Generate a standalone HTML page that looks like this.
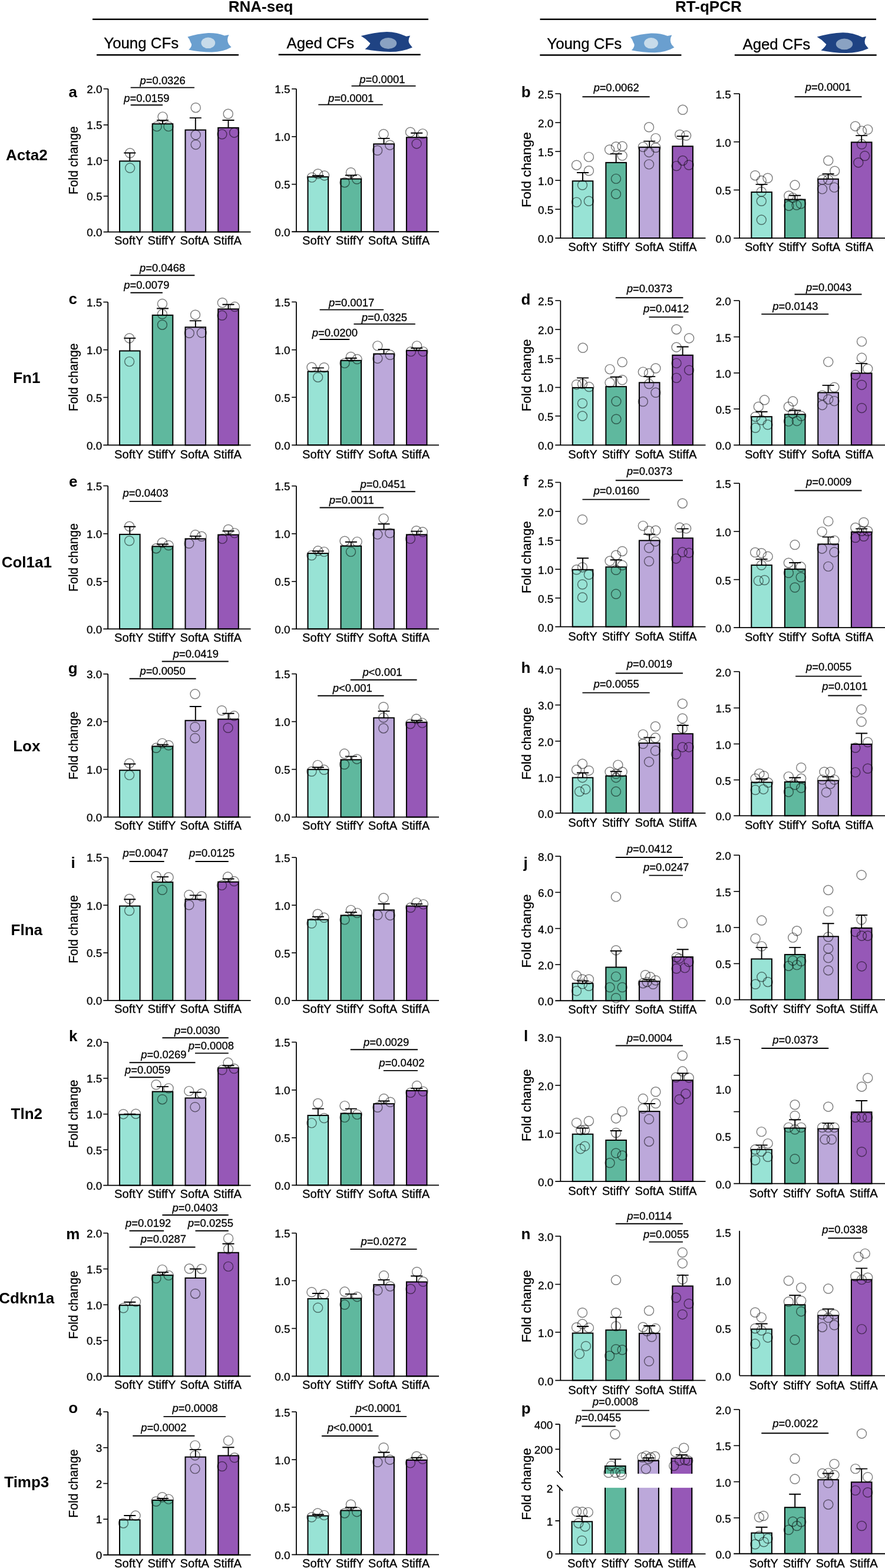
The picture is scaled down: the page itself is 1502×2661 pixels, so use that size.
<!DOCTYPE html>
<html><head><meta charset="utf-8"><title>Figure</title>
<style>html,body{margin:0;padding:0;background:#fff;overflow:hidden;}svg{display:block;}text{font-family:'Liberation Sans', Arial, Helvetica, sans-serif;fill:#000;}.tk,.xl,.pv,.fc,.sh{stroke:#000;stroke-width:0.3px;}.tk{font-size:18.9px;text-anchor:end;}.xl{font-size:20.2px;text-anchor:middle;}.pv{font-size:18.4px;text-anchor:middle;}.fc{font-size:22.6px;text-anchor:middle;}.lt{font-size:26px;font-weight:bold;text-anchor:middle;}.rl{font-size:26px;font-weight:bold;text-anchor:middle;}.hd{font-size:26px;font-weight:bold;text-anchor:middle;}.sh{font-size:25.6px;}circle{fill:none;stroke:#000;stroke-opacity:0.5;stroke-width:1.45px;}</style></head><body>
<svg width="1502" height="2661" viewBox="0 0 1502 2661">
<rect width="1502" height="2661" fill="#fff"/>
<text class="hd" x="442.6" y="19.6">RNA-seq</text>
<text class="hd" x="1202.4" y="19.8">RT-qPCR</text>
<path d="M157 32.7H727M916.5 32.8H1487" stroke="#000" stroke-width="2.5"/>
<path d="M164 93.3H405M472.7 92.8H713.7M916.3 93.4H1156.4M1246.8 93.6H1487.7" stroke="#000" stroke-width="2.5"/>
<text class="sh" x="176.3" y="82.3" textLength="126.8" lengthAdjust="spacingAndGlyphs">Young CFs</text>
<text class="sh" x="486.6" y="82.3" textLength="114.6" lengthAdjust="spacingAndGlyphs">Aged CFs</text>
<text class="sh" x="928.3" y="82.9" textLength="126.8" lengthAdjust="spacingAndGlyphs">Young CFs</text>
<text class="sh" x="1260.5" y="83.8" textLength="114.6" lengthAdjust="spacingAndGlyphs">Aged CFs</text>
<path transform="translate(318.4 56) scale(74.2000 32.5000)" d="M0 .2Q.22 .04 .47 0Q.68 -.01 .846 .135L.946 .095Q.88 .35 .942 .59L1 .735Q.82 .98 .554 1Q.28 1 .024 .877Q.13 .66 .066 .477Q.05 .33 0 .2Z" fill="#6a9fcf"/><ellipse cx="353.3" cy="72.8" rx="11.9" ry="9.3" fill="#c7dbea"/>
<path transform="translate(612.6 53.9) scale(87.3000 34.1000)" d="M0 .21Q.25 .03 .504 0Q.7 0 .882 .232L.957 .191Q.9 .45 .95 .62L1 .777Q.8 1 .568 1Q.3 .98 .078 .865Q.16 .7 .181 .572Q.1 .35 0 .21Z" fill="#1f4383"/><ellipse cx="659" cy="73.5" rx="14.2" ry="9.4" fill="#8aa2c2"/>
<path transform="translate(1070 56.5) scale(74.3000 32.7000)" d="M0 .2Q.22 .04 .47 0Q.68 -.01 .846 .135L.946 .095Q.88 .35 .942 .59L1 .735Q.82 .98 .554 1Q.28 1 .024 .877Q.13 .66 .066 .477Q.05 .33 0 .2Z" fill="#6a9fcf"/><ellipse cx="1105" cy="73.3" rx="11.9" ry="9.3" fill="#c7dbea"/>
<path transform="translate(1386.6 55.2) scale(87.3000 34.9000)" d="M0 .21Q.25 .03 .504 0Q.7 0 .882 .232L.957 .191Q.9 .45 .95 .62L1 .777Q.8 1 .568 1Q.3 .98 .078 .865Q.16 .7 .181 .572Q.1 .35 0 .21Z" fill="#1f4383"/><ellipse cx="1433" cy="74.8" rx="14.2" ry="9.4" fill="#8aa2c2"/>
<rect x="203" y="273.4" width="34.6" height="120.17" fill="#98e3d5" stroke="#000" stroke-width="2.0"/>
<rect x="258.7" y="210.23" width="34.6" height="183.33" fill="#5fb89e" stroke="#000" stroke-width="2.0"/>
<rect x="314.5" y="220.58" width="34.6" height="172.98" fill="#bca8da" stroke="#000" stroke-width="2.0"/>
<rect x="370.2" y="216.84" width="34.6" height="176.73" fill="#9658b7" stroke="#000" stroke-width="2.0"/>
<path d="M220.3 273.4V259.53M210.3 259.53H230.3" stroke="#000" stroke-width="1.9" fill="none"/>
<path d="M276 210.23V204.29M266 204.29H286" stroke="#000" stroke-width="1.9" fill="none"/>
<path d="M331.8 220.58V200.11M321.8 200.11H341.8" stroke="#000" stroke-width="1.9" fill="none"/>
<path d="M387.5 216.84V204.07M377.5 204.07H397.5" stroke="#000" stroke-width="1.9" fill="none"/>
<circle cx="220.61" cy="259.75" r="8.0"/>
<circle cx="220.61" cy="285.06" r="8.0"/>
<circle cx="276.07" cy="198.13" r="8.0"/>
<circle cx="266.16" cy="214.64" r="8.0"/>
<circle cx="285.97" cy="214.64" r="8.0"/>
<circle cx="332.19" cy="182.72" r="8.0"/>
<circle cx="332.19" cy="228.94" r="8.0"/>
<circle cx="332.19" cy="245.45" r="8.0"/>
<circle cx="387.21" cy="193.29" r="8.0"/>
<circle cx="376.86" cy="227.84" r="8.0"/>
<circle cx="397.55" cy="225.2" r="8.0"/>
<path d="M183.5 150.81V393.56M175.6 393.56H425.6" stroke="#000" stroke-width="1.8" fill="none"/>
<path d="M175.6 150.81H183.5" stroke="#000" stroke-width="1.6"/>
<path d="M175.6 211.99H183.5" stroke="#000" stroke-width="1.6"/>
<path d="M175.6 272.3H183.5" stroke="#000" stroke-width="1.6"/>
<path d="M175.6 332.82H183.5" stroke="#000" stroke-width="1.6"/>
<text class="tk" x="173.5" y="158.11">2.0</text>
<text class="tk" x="173.5" y="219.29">1.5</text>
<text class="tk" x="173.5" y="279.6">1.0</text>
<text class="tk" x="173.5" y="340.12">0.5</text>
<text class="tk" x="173.5" y="400.86">0.0</text>
<text class="xl" x="218.8" y="414.96">SoftY</text>
<text class="xl" x="274.5" y="414.96">StiffY</text>
<text class="xl" x="330.3" y="414.96">SoftA</text>
<text class="xl" x="386" y="414.96">StiffA</text>
<path d="M221.71 148.61H329.99" stroke="#000" stroke-width="1.9"/>
<text class="pv" x="276.21" y="142.9"><tspan font-style="italic">p</tspan>=0.0326</text>
<path d="M221.71 178.32H276.07" stroke="#000" stroke-width="1.9"/>
<text class="pv" x="248.92" y="172.52"><tspan font-style="italic">p</tspan>=0.0159</text>
<text class="fc" transform="translate(131.7 272.2) rotate(-90)" x="0" y="0" textLength="115.8" lengthAdjust="spacingAndGlyphs">Fold change</text>
<rect x="522.5" y="300.19" width="34.6" height="93.05" fill="#98e3d5" stroke="#000" stroke-width="2.0"/>
<rect x="578.5" y="303.6" width="34.6" height="89.65" fill="#5fb89e" stroke="#000" stroke-width="2.0"/>
<rect x="634.2" y="244.36" width="34.6" height="148.89" fill="#bca8da" stroke="#000" stroke-width="2.0"/>
<rect x="689.9" y="233.24" width="34.6" height="160.01" fill="#9658b7" stroke="#000" stroke-width="2.0"/>
<path d="M539.8 300.19V297.92M529.8 297.92H549.8" stroke="#000" stroke-width="1.9" fill="none"/>
<path d="M595.8 303.6V297.47M585.8 297.47H605.8" stroke="#000" stroke-width="1.9" fill="none"/>
<path d="M651.5 244.36V234.83M641.5 234.83H661.5" stroke="#000" stroke-width="1.9" fill="none"/>
<path d="M707.2 233.24V225.75M697.2 225.75H717.2" stroke="#000" stroke-width="1.9" fill="none"/>
<circle cx="529.39" cy="301.1" r="8.0"/>
<circle cx="539.61" cy="294.97" r="8.0"/>
<circle cx="550.5" cy="297.92" r="8.0"/>
<circle cx="585" cy="309.72" r="8.0"/>
<circle cx="595.44" cy="292.7" r="8.0"/>
<circle cx="605.65" cy="304.05" r="8.0"/>
<circle cx="640.61" cy="255.25" r="8.0"/>
<circle cx="651.05" cy="227.57" r="8.0"/>
<circle cx="661.71" cy="246.18" r="8.0"/>
<circle cx="696.44" cy="224.16" r="8.0"/>
<circle cx="707.1" cy="243.91" r="8.0"/>
<circle cx="717.32" cy="226.88" r="8.0"/>
<path d="M502.9 150.85V393.25M495.1 393.25H745" stroke="#000" stroke-width="1.8" fill="none"/>
<path d="M495.1 150.85H502.9" stroke="#000" stroke-width="1.6"/>
<path d="M495.1 231.88H502.9" stroke="#000" stroke-width="1.6"/>
<path d="M495.1 312.68H502.9" stroke="#000" stroke-width="1.6"/>
<text class="tk" x="492.6" y="158.45">1.5</text>
<text class="tk" x="492.6" y="239.48">1.0</text>
<text class="tk" x="492.6" y="320.28">0.5</text>
<text class="tk" x="492.6" y="400.85">0.0</text>
<text class="xl" x="537.8" y="414.65">SoftY</text>
<text class="xl" x="593.8" y="414.65">StiffY</text>
<text class="xl" x="649.5" y="414.65">SoftA</text>
<text class="xl" x="705.2" y="414.65">StiffA</text>
<path d="M540.29 177.63H649.68" stroke="#000" stroke-width="1.9"/>
<text class="pv" x="595.56" y="172.53"><tspan font-style="italic">p</tspan>=0.0001</text>
<path d="M596.57 145.86H705.52" stroke="#000" stroke-width="1.9"/>
<text class="pv" x="648.89" y="140.76"><tspan font-style="italic">p</tspan>=0.0001</text>
<rect x="971.7" y="307.24" width="34.6" height="96.91" fill="#98e3d5" stroke="#000" stroke-width="2.0"/>
<rect x="1028.3" y="275.92" width="34.6" height="128.23" fill="#5fb89e" stroke="#000" stroke-width="2.0"/>
<rect x="1084.9" y="249.82" width="34.6" height="154.33" fill="#bca8da" stroke="#000" stroke-width="2.0"/>
<rect x="1141.3" y="248.23" width="34.6" height="155.92" fill="#9658b7" stroke="#000" stroke-width="2.0"/>
<path d="M989 307.24V292.94M979 292.94H999" stroke="#000" stroke-width="1.9" fill="none"/>
<path d="M1045.6 275.92V261.17M1035.6 261.17H1055.6" stroke="#000" stroke-width="1.9" fill="none"/>
<path d="M1102.2 249.82V239.61M1092.2 239.61H1112.2" stroke="#000" stroke-width="1.9" fill="none"/>
<path d="M1158.6 248.23V231.21M1148.6 231.21H1168.6" stroke="#000" stroke-width="1.9" fill="none"/>
<circle cx="978.49" cy="280.23" r="8.0"/>
<circle cx="999.37" cy="266.39" r="8.0"/>
<circle cx="999.37" cy="289.77" r="8.0"/>
<circle cx="988.47" cy="314.05" r="8.0"/>
<circle cx="978.49" cy="343.1" r="8.0"/>
<circle cx="999.37" cy="341.29" r="8.0"/>
<circle cx="1034.55" cy="253.91" r="8.0"/>
<circle cx="1045.44" cy="248.91" r="8.0"/>
<circle cx="1056.11" cy="248.23" r="8.0"/>
<circle cx="1056.11" cy="264.12" r="8.0"/>
<circle cx="1045.44" cy="303.38" r="8.0"/>
<circle cx="1045.44" cy="329.26" r="8.0"/>
<circle cx="1101.5" cy="215.78" r="8.0"/>
<circle cx="1112.85" cy="234.61" r="8.0"/>
<circle cx="1091.29" cy="249.37" r="8.0"/>
<circle cx="1112.85" cy="250.5" r="8.0"/>
<circle cx="1101.5" cy="258.45" r="8.0"/>
<circle cx="1101.5" cy="278.87" r="8.0"/>
<circle cx="1158.69" cy="186.27" r="8.0"/>
<circle cx="1153.7" cy="228.49" r="8.0"/>
<circle cx="1164.59" cy="230.08" r="8.0"/>
<circle cx="1158.69" cy="272.52" r="8.0"/>
<circle cx="1148.03" cy="281.6" r="8.0"/>
<circle cx="1169.13" cy="280.01" r="8.0"/>
<path d="M951.3 159.04V404.15M942.3 404.15H1197.5" stroke="#000" stroke-width="1.8" fill="none"/>
<path d="M942.3 159.04H951.3" stroke="#000" stroke-width="1.6"/>
<path d="M942.3 208.06H951.3" stroke="#000" stroke-width="1.6"/>
<path d="M942.3 257.08H951.3" stroke="#000" stroke-width="1.6"/>
<path d="M942.3 306.11H951.3" stroke="#000" stroke-width="1.6"/>
<path d="M942.3 355.13H951.3" stroke="#000" stroke-width="1.6"/>
<text class="tk" x="939.3" y="167.04">2.5</text>
<text class="tk" x="939.3" y="216.06">2.0</text>
<text class="tk" x="939.3" y="265.08">1.5</text>
<text class="tk" x="939.3" y="314.11">1.0</text>
<text class="tk" x="939.3" y="363.13">0.5</text>
<text class="tk" x="939.3" y="412.15">0.0</text>
<text class="xl" x="989" y="425.55">SoftY</text>
<text class="xl" x="1045.6" y="425.55">StiffY</text>
<text class="xl" x="1102.2" y="425.55">SoftA</text>
<text class="xl" x="1158.6" y="425.55">StiffA</text>
<path d="M988.47 164.26H1102.63" stroke="#000" stroke-width="1.9"/>
<text class="pv" x="1046.01" y="155.3"><tspan font-style="italic">p</tspan>=0.0062</text>
<text class="fc" transform="translate(900.6 288.15) rotate(-90)" x="0" y="0" textLength="127.9" lengthAdjust="spacingAndGlyphs">Fold change</text>
<rect x="1275.3" y="326.08" width="34.6" height="78.07" fill="#98e3d5" stroke="#000" stroke-width="2.0"/>
<rect x="1331.9" y="338.56" width="34.6" height="65.59" fill="#5fb89e" stroke="#000" stroke-width="2.0"/>
<rect x="1388.3" y="303.84" width="34.6" height="100.32" fill="#bca8da" stroke="#000" stroke-width="2.0"/>
<rect x="1444.9" y="241.42" width="34.6" height="162.73" fill="#9658b7" stroke="#000" stroke-width="2.0"/>
<path d="M1292.6 326.08V312.92M1282.6 312.92H1302.6" stroke="#000" stroke-width="1.9" fill="none"/>
<path d="M1349.2 338.56V331.75M1339.2 331.75H1359.2" stroke="#000" stroke-width="1.9" fill="none"/>
<path d="M1405.6 303.84V295.21M1395.6 295.21H1415.6" stroke="#000" stroke-width="1.9" fill="none"/>
<path d="M1462.2 241.42V230.08M1452.2 230.08H1472.2" stroke="#000" stroke-width="1.9" fill="none"/>
<circle cx="1281.62" cy="297.71" r="8.0"/>
<circle cx="1302.96" cy="302.25" r="8.0"/>
<circle cx="1292.29" cy="306.56" r="8.0"/>
<circle cx="1292.29" cy="325.4" r="8.0"/>
<circle cx="1292.29" cy="341.29" r="8.0"/>
<circle cx="1292.29" cy="373.06" r="8.0"/>
<circle cx="1349.03" cy="314.05" r="8.0"/>
<circle cx="1338.82" cy="332.21" r="8.0"/>
<circle cx="1345.62" cy="335.61" r="8.0"/>
<circle cx="1338.82" cy="349.23" r="8.0"/>
<circle cx="1351.98" cy="348.09" r="8.0"/>
<circle cx="1359.24" cy="345.83" r="8.0"/>
<circle cx="1405.77" cy="272.52" r="8.0"/>
<circle cx="1416.66" cy="290.22" r="8.0"/>
<circle cx="1395.56" cy="304.97" r="8.0"/>
<circle cx="1405.77" cy="304.97" r="8.0"/>
<circle cx="1395.56" cy="320.86" r="8.0"/>
<circle cx="1415.98" cy="318.14" r="8.0"/>
<circle cx="1451.61" cy="214.19" r="8.0"/>
<circle cx="1472.72" cy="219.86" r="8.0"/>
<circle cx="1462.51" cy="222.13" r="8.0"/>
<circle cx="1462.51" cy="244.83" r="8.0"/>
<circle cx="1467.73" cy="264.57" r="8.0"/>
<circle cx="1456.83" cy="275.92" r="8.0"/>
<path d="M1255.1 159.04V404.15M1245.2 404.15H1502" stroke="#000" stroke-width="1.8" fill="none"/>
<path d="M1245.2 159.04H1255.1" stroke="#000" stroke-width="1.6"/>
<path d="M1245.2 240.74H1255.1" stroke="#000" stroke-width="1.6"/>
<path d="M1245.2 322.45H1255.1" stroke="#000" stroke-width="1.6"/>
<text class="tk" x="1240.8" y="167.04">1.5</text>
<text class="tk" x="1240.8" y="248.74">1.0</text>
<text class="tk" x="1240.8" y="330.45">0.5</text>
<text class="tk" x="1240.8" y="412.15">0.0</text>
<text class="xl" x="1288.6" y="425.55">SoftY</text>
<text class="xl" x="1345.2" y="425.55">StiffY</text>
<text class="xl" x="1401.6" y="425.55">SoftA</text>
<text class="xl" x="1458.2" y="425.55">StiffA</text>
<path d="M1348.57 164.26H1462.51" stroke="#000" stroke-width="1.9"/>
<text class="pv" x="1405.43" y="154.39"><tspan font-style="italic">p</tspan>=0.0001</text>
<rect x="203" y="595.47" width="34.6" height="160.01" fill="#98e3d5" stroke="#000" stroke-width="2.0"/>
<rect x="258.7" y="534.87" width="34.6" height="220.61" fill="#5fb89e" stroke="#000" stroke-width="2.0"/>
<rect x="314.5" y="555.3" width="34.6" height="200.18" fill="#bca8da" stroke="#000" stroke-width="2.0"/>
<rect x="370.2" y="524.43" width="34.6" height="231.05" fill="#9658b7" stroke="#000" stroke-width="2.0"/>
<path d="M220.3 595.47V573.91M210.3 573.91H230.3" stroke="#000" stroke-width="1.9" fill="none"/>
<path d="M276 534.87V523.52M266 523.52H286" stroke="#000" stroke-width="1.9" fill="none"/>
<path d="M331.8 555.3V544.4M321.8 544.4H341.8" stroke="#000" stroke-width="1.9" fill="none"/>
<path d="M387.5 524.43V516.71M377.5 516.71H397.5" stroke="#000" stroke-width="1.9" fill="none"/>
<circle cx="219.61" cy="573.91" r="8.0"/>
<circle cx="219.61" cy="613.62" r="8.0"/>
<circle cx="275.44" cy="515.58" r="8.0"/>
<circle cx="275.44" cy="533.05" r="8.0"/>
<circle cx="275.44" cy="551.21" r="8.0"/>
<circle cx="331.5" cy="534.19" r="8.0"/>
<circle cx="321.29" cy="565.28" r="8.0"/>
<circle cx="342.39" cy="564.83" r="8.0"/>
<circle cx="377.35" cy="513.76" r="8.0"/>
<circle cx="398.45" cy="520.57" r="8.0"/>
<circle cx="376.89" cy="535.32" r="8.0"/>
<path d="M183.2 512.63V755.47M175.3 755.47H425.6" stroke="#000" stroke-width="1.8" fill="none"/>
<path d="M175.3 512.63H183.2" stroke="#000" stroke-width="1.6"/>
<path d="M175.3 593.65H183.2" stroke="#000" stroke-width="1.6"/>
<path d="M175.3 674.45H183.2" stroke="#000" stroke-width="1.6"/>
<text class="tk" x="173.2" y="519.93">1.5</text>
<text class="tk" x="173.2" y="600.95">1.0</text>
<text class="tk" x="173.2" y="681.75">0.5</text>
<text class="tk" x="173.2" y="762.77">0.0</text>
<text class="xl" x="218.8" y="778.37">SoftY</text>
<text class="xl" x="274.5" y="778.37">StiffY</text>
<text class="xl" x="330.3" y="778.37">SoftA</text>
<text class="xl" x="386" y="778.37">StiffA</text>
<path d="M221.42 467.24H330.36" stroke="#000" stroke-width="1.9"/>
<text class="pv" x="275.56" y="460.77"><tspan font-style="italic">p</tspan>=0.0468</text>
<path d="M221.42 496.74H275.89" stroke="#000" stroke-width="1.9"/>
<text class="pv" x="248.78" y="490.28"><tspan font-style="italic">p</tspan>=0.0079</text>
<text class="fc" transform="translate(131.7 640.3) rotate(-90)" x="0" y="0" textLength="115.4" lengthAdjust="spacingAndGlyphs">Fold change</text>
<rect x="522.5" y="630.46" width="34.6" height="124.83" fill="#98e3d5" stroke="#000" stroke-width="2.0"/>
<rect x="578.5" y="611.85" width="34.6" height="143.44" fill="#5fb89e" stroke="#000" stroke-width="2.0"/>
<rect x="634.2" y="600.5" width="34.6" height="154.79" fill="#bca8da" stroke="#000" stroke-width="2.0"/>
<rect x="689.9" y="594.83" width="34.6" height="160.46" fill="#9658b7" stroke="#000" stroke-width="2.0"/>
<path d="M539.8 630.46V624.33M529.8 624.33H549.8" stroke="#000" stroke-width="1.9" fill="none"/>
<path d="M595.8 611.85V607.76M585.8 607.76H605.8" stroke="#000" stroke-width="1.9" fill="none"/>
<path d="M651.5 600.5V593.01M641.5 593.01H661.5" stroke="#000" stroke-width="1.9" fill="none"/>
<path d="M707.2 594.83V590.74M697.2 590.74H717.2" stroke="#000" stroke-width="1.9" fill="none"/>
<circle cx="528.94" cy="623.2" r="8.0"/>
<circle cx="550.05" cy="623.65" r="8.0"/>
<circle cx="539.61" cy="640.22" r="8.0"/>
<circle cx="595.44" cy="605.5" r="8.0"/>
<circle cx="606.11" cy="609.58" r="8.0"/>
<circle cx="585" cy="616.39" r="8.0"/>
<circle cx="640.83" cy="586.88" r="8.0"/>
<circle cx="662.17" cy="602.32" r="8.0"/>
<circle cx="640.83" cy="608.45" r="8.0"/>
<circle cx="707.56" cy="586.88" r="8.0"/>
<circle cx="697.35" cy="596.64" r="8.0"/>
<circle cx="718" cy="596.64" r="8.0"/>
<path d="M502.9 512.44V755.29M495.1 755.29H745" stroke="#000" stroke-width="1.8" fill="none"/>
<path d="M495.1 512.44H502.9" stroke="#000" stroke-width="1.6"/>
<path d="M495.1 593.69H502.9" stroke="#000" stroke-width="1.6"/>
<path d="M495.1 674.26H502.9" stroke="#000" stroke-width="1.6"/>
<text class="tk" x="492.6" y="520.04">1.5</text>
<text class="tk" x="492.6" y="601.29">1.0</text>
<text class="tk" x="492.6" y="681.86">0.5</text>
<text class="tk" x="492.6" y="762.89">0.0</text>
<text class="xl" x="537.8" y="778.19">SoftY</text>
<text class="xl" x="593.8" y="778.19">StiffY</text>
<text class="xl" x="649.5" y="778.19">SoftA</text>
<text class="xl" x="705.2" y="778.19">StiffA</text>
<path d="M542.56 525.61H651.05" stroke="#000" stroke-width="1.9"/>
<text class="pv" x="596.69" y="520.28"><tspan font-style="italic">p</tspan>=0.0017</text>
<path d="M600.43 549.89H704.83" stroke="#000" stroke-width="1.9"/>
<text class="pv" x="652.3" y="544.56"><tspan font-style="italic">p</tspan>=0.0325</text>
<path d="M542.56 575.99H593.17" stroke="#000" stroke-width="1.9"/>
<text class="pv" x="568.32" y="570.66"><tspan font-style="italic">p</tspan>=0.0200</text>
<rect x="971.7" y="657.92" width="34.6" height="97.37" fill="#98e3d5" stroke="#000" stroke-width="2.0"/>
<rect x="1028.3" y="656.11" width="34.6" height="99.18" fill="#5fb89e" stroke="#000" stroke-width="2.0"/>
<rect x="1084.9" y="649.3" width="34.6" height="105.99" fill="#bca8da" stroke="#000" stroke-width="2.0"/>
<rect x="1141.3" y="602.77" width="34.6" height="152.52" fill="#9658b7" stroke="#000" stroke-width="2.0"/>
<path d="M989 657.92V641.35M979 641.35H999" stroke="#000" stroke-width="1.9" fill="none"/>
<path d="M1045.6 656.11V639.77M1035.6 639.77H1055.6" stroke="#000" stroke-width="1.9" fill="none"/>
<path d="M1102.2 649.3V639.09M1092.2 639.09H1112.2" stroke="#000" stroke-width="1.9" fill="none"/>
<path d="M1158.6 602.77V588.47M1148.6 588.47H1168.6" stroke="#000" stroke-width="1.9" fill="none"/>
<circle cx="989.15" cy="590.29" r="8.0"/>
<circle cx="978.49" cy="652.7" r="8.0"/>
<circle cx="988.47" cy="651.57" r="8.0"/>
<circle cx="999.82" cy="656.56" r="8.0"/>
<circle cx="988.47" cy="684.48" r="8.0"/>
<circle cx="988.47" cy="706.04" r="8.0"/>
<circle cx="1056.11" cy="614.57" r="8.0"/>
<circle cx="1035" cy="626.6" r="8.0"/>
<circle cx="1056.11" cy="644.76" r="8.0"/>
<circle cx="1035" cy="649.3" r="8.0"/>
<circle cx="1045.89" cy="681.07" r="8.0"/>
<circle cx="1045.89" cy="711.26" r="8.0"/>
<circle cx="1091.29" cy="631.14" r="8.0"/>
<circle cx="1112.85" cy="625.01" r="8.0"/>
<circle cx="1101.5" cy="633.41" r="8.0"/>
<circle cx="1101.5" cy="651.57" r="8.0"/>
<circle cx="1112.85" cy="666.32" r="8.0"/>
<circle cx="1091.29" cy="681.53" r="8.0"/>
<circle cx="1148.03" cy="558.97" r="8.0"/>
<circle cx="1169.59" cy="573.95" r="8.0"/>
<circle cx="1148.03" cy="589.15" r="8.0"/>
<circle cx="1148.03" cy="616.39" r="8.0"/>
<circle cx="1169.59" cy="628.19" r="8.0"/>
<circle cx="1148.03" cy="641.35" r="8.0"/>
<path d="M951.3 510.17V755.29M942.3 755.29H1197.5" stroke="#000" stroke-width="1.8" fill="none"/>
<path d="M942.3 510.17H951.3" stroke="#000" stroke-width="1.6"/>
<path d="M942.3 559.2H951.3" stroke="#000" stroke-width="1.6"/>
<path d="M942.3 608.45H951.3" stroke="#000" stroke-width="1.6"/>
<path d="M942.3 657.47H951.3" stroke="#000" stroke-width="1.6"/>
<path d="M942.3 706.04H951.3" stroke="#000" stroke-width="1.6"/>
<text class="tk" x="939.3" y="518.17">2.5</text>
<text class="tk" x="939.3" y="567.2">2.0</text>
<text class="tk" x="939.3" y="616.45">1.5</text>
<text class="tk" x="939.3" y="665.47">1.0</text>
<text class="tk" x="939.3" y="714.04">0.5</text>
<text class="tk" x="939.3" y="763.29">0.0</text>
<text class="xl" x="989" y="777.69">SoftY</text>
<text class="xl" x="1045.6" y="777.69">StiffY</text>
<text class="xl" x="1102.2" y="777.69">SoftA</text>
<text class="xl" x="1158.6" y="777.69">StiffA</text>
<path d="M1044.76 505.18H1159.37" stroke="#000" stroke-width="1.9"/>
<text class="pv" x="1102.3" y="495.77"><tspan font-style="italic">p</tspan>=0.0373</text>
<path d="M1101.5 538.09H1159.37" stroke="#000" stroke-width="1.9"/>
<text class="pv" x="1130.67" y="530.26"><tspan font-style="italic">p</tspan>=0.0412</text>
<text class="fc" transform="translate(900.6 636.9) rotate(-90)" x="0" y="0" textLength="122.8" lengthAdjust="spacingAndGlyphs">Fold change</text>
<rect x="1275.3" y="707.17" width="34.6" height="48.12" fill="#98e3d5" stroke="#000" stroke-width="2.0"/>
<rect x="1331.9" y="703.31" width="34.6" height="51.97" fill="#5fb89e" stroke="#000" stroke-width="2.0"/>
<rect x="1388.3" y="666.32" width="34.6" height="88.97" fill="#bca8da" stroke="#000" stroke-width="2.0"/>
<rect x="1444.9" y="633.41" width="34.6" height="121.88" fill="#9658b7" stroke="#000" stroke-width="2.0"/>
<path d="M1292.6 707.17V698.78M1282.6 698.78H1302.6" stroke="#000" stroke-width="1.9" fill="none"/>
<path d="M1349.2 703.31V696.51M1339.2 696.51H1359.2" stroke="#000" stroke-width="1.9" fill="none"/>
<path d="M1405.6 666.32V653.84M1395.6 653.84H1415.6" stroke="#000" stroke-width="1.9" fill="none"/>
<path d="M1462.2 633.41V616.84M1452.2 616.84H1472.2" stroke="#000" stroke-width="1.9" fill="none"/>
<circle cx="1297.51" cy="678.8" r="8.0"/>
<circle cx="1287.3" cy="690.15" r="8.0"/>
<circle cx="1282.08" cy="707.17" r="8.0"/>
<circle cx="1292.29" cy="712.85" r="8.0"/>
<circle cx="1302.96" cy="720.79" r="8.0"/>
<circle cx="1282.08" cy="726.01" r="8.0"/>
<circle cx="1345.62" cy="681.07" r="8.0"/>
<circle cx="1338.36" cy="690.15" r="8.0"/>
<circle cx="1345.62" cy="701.5" r="8.0"/>
<circle cx="1359.7" cy="706.04" r="8.0"/>
<circle cx="1338.36" cy="715.12" r="8.0"/>
<circle cx="1352.43" cy="714.44" r="8.0"/>
<circle cx="1405.77" cy="614.12" r="8.0"/>
<circle cx="1415.98" cy="657.24" r="8.0"/>
<circle cx="1395.56" cy="670.86" r="8.0"/>
<circle cx="1405.77" cy="677.67" r="8.0"/>
<circle cx="1415.98" cy="680.62" r="8.0"/>
<circle cx="1395.56" cy="687.43" r="8.0"/>
<circle cx="1462.51" cy="579.62" r="8.0"/>
<circle cx="1462.51" cy="607.31" r="8.0"/>
<circle cx="1472.72" cy="625.92" r="8.0"/>
<circle cx="1451.84" cy="636.36" r="8.0"/>
<circle cx="1462.51" cy="653.16" r="8.0"/>
<circle cx="1462.51" cy="692.42" r="8.0"/>
<path d="M1255.1 510.17V755.29M1245.2 755.29H1502" stroke="#000" stroke-width="1.8" fill="none"/>
<path d="M1245.2 510.17H1255.1" stroke="#000" stroke-width="1.6"/>
<path d="M1245.2 571.68H1255.1" stroke="#000" stroke-width="1.6"/>
<path d="M1245.2 632.96H1255.1" stroke="#000" stroke-width="1.6"/>
<path d="M1245.2 694.01H1255.1" stroke="#000" stroke-width="1.6"/>
<text class="tk" x="1240.8" y="518.17">2.0</text>
<text class="tk" x="1240.8" y="579.68">1.5</text>
<text class="tk" x="1240.8" y="640.96">1.0</text>
<text class="tk" x="1240.8" y="702.01">0.5</text>
<text class="tk" x="1240.8" y="763.29">0.0</text>
<text class="xl" x="1288.6" y="777.69">SoftY</text>
<text class="xl" x="1345.2" y="777.69">StiffY</text>
<text class="xl" x="1401.6" y="777.69">SoftA</text>
<text class="xl" x="1458.2" y="777.69">StiffA</text>
<path d="M1348.57 499.5H1462.51" stroke="#000" stroke-width="1.9"/>
<text class="pv" x="1406.57" y="493.5"><tspan font-style="italic">p</tspan>=0.0043</text>
<path d="M1292.29 533.09H1406.22" stroke="#000" stroke-width="1.9"/>
<text class="pv" x="1349.83" y="526.41"><tspan font-style="italic">p</tspan>=0.0143</text>
<rect x="203" y="906.88" width="34.6" height="160.46" fill="#98e3d5" stroke="#000" stroke-width="2.0"/>
<rect x="258.7" y="927.31" width="34.6" height="140.03" fill="#5fb89e" stroke="#000" stroke-width="2.0"/>
<rect x="314.5" y="914.37" width="34.6" height="152.97" fill="#bca8da" stroke="#000" stroke-width="2.0"/>
<rect x="370.2" y="907.57" width="34.6" height="159.78" fill="#9658b7" stroke="#000" stroke-width="2.0"/>
<path d="M220.3 906.88V893.72M210.3 893.72H230.3" stroke="#000" stroke-width="1.9" fill="none"/>
<path d="M276 927.31V923.45M266 923.45H286" stroke="#000" stroke-width="1.9" fill="none"/>
<path d="M331.8 914.37V909.83M321.8 909.83H341.8" stroke="#000" stroke-width="1.9" fill="none"/>
<path d="M387.5 907.57V901.21M377.5 901.21H397.5" stroke="#000" stroke-width="1.9" fill="none"/>
<circle cx="219.61" cy="893.27" r="8.0"/>
<circle cx="219.61" cy="917.78" r="8.0"/>
<circle cx="275.44" cy="920.96" r="8.0"/>
<circle cx="286.11" cy="925.5" r="8.0"/>
<circle cx="265" cy="930.72" r="8.0"/>
<circle cx="331.5" cy="907.57" r="8.0"/>
<circle cx="342.17" cy="910.29" r="8.0"/>
<circle cx="320.83" cy="922.32" r="8.0"/>
<circle cx="387.56" cy="898.49" r="8.0"/>
<circle cx="398" cy="904.61" r="8.0"/>
<circle cx="377.35" cy="914.37" r="8.0"/>
<path d="M183.2 824.5V1067.35M175.3 1067.35H425.6" stroke="#000" stroke-width="1.8" fill="none"/>
<path d="M175.3 824.5H183.2" stroke="#000" stroke-width="1.6"/>
<path d="M175.3 905.75H183.2" stroke="#000" stroke-width="1.6"/>
<path d="M175.3 986.77H183.2" stroke="#000" stroke-width="1.6"/>
<text class="tk" x="173.2" y="831.8">1.5</text>
<text class="tk" x="173.2" y="913.05">1.0</text>
<text class="tk" x="173.2" y="994.07">0.5</text>
<text class="tk" x="173.2" y="1074.65">0.0</text>
<text class="xl" x="218.8" y="1088.75">SoftY</text>
<text class="xl" x="274.5" y="1088.75">StiffY</text>
<text class="xl" x="330.3" y="1088.75">SoftA</text>
<text class="xl" x="386" y="1088.75">StiffA</text>
<path d="M219.61 850.83H274.08" stroke="#000" stroke-width="1.9"/>
<text class="pv" x="247.19" y="843"><tspan font-style="italic">p</tspan>=0.0403</text>
<text class="fc" transform="translate(131.7 946) rotate(-90)" x="0" y="0" textLength="115.8" lengthAdjust="spacingAndGlyphs">Fold change</text>
<rect x="522.5" y="939.11" width="34.6" height="128.23" fill="#98e3d5" stroke="#000" stroke-width="2.0"/>
<rect x="578.5" y="926.63" width="34.6" height="140.72" fill="#5fb89e" stroke="#000" stroke-width="2.0"/>
<rect x="634.2" y="898.49" width="34.6" height="168.86" fill="#bca8da" stroke="#000" stroke-width="2.0"/>
<rect x="689.9" y="907.34" width="34.6" height="160.01" fill="#9658b7" stroke="#000" stroke-width="2.0"/>
<path d="M539.8 939.11V935.25M529.8 935.25H549.8" stroke="#000" stroke-width="1.9" fill="none"/>
<path d="M595.8 926.63V919.82M585.8 919.82H605.8" stroke="#000" stroke-width="1.9" fill="none"/>
<path d="M651.5 898.49V889.18M641.5 889.18H661.5" stroke="#000" stroke-width="1.9" fill="none"/>
<path d="M707.2 907.34V901.66M697.2 901.66H717.2" stroke="#000" stroke-width="1.9" fill="none"/>
<circle cx="528.94" cy="942.52" r="8.0"/>
<circle cx="539.61" cy="934.8" r="8.0"/>
<circle cx="550.05" cy="936.39" r="8.0"/>
<circle cx="585" cy="918.23" r="8.0"/>
<circle cx="606.11" cy="919.37" r="8.0"/>
<circle cx="595.44" cy="936.39" r="8.0"/>
<circle cx="651.05" cy="880.1" r="8.0"/>
<circle cx="640.83" cy="906.88" r="8.0"/>
<circle cx="661.71" cy="904.61" r="8.0"/>
<circle cx="706.65" cy="900.76" r="8.0"/>
<circle cx="717.32" cy="902.8" r="8.0"/>
<circle cx="696.44" cy="914.37" r="8.0"/>
<path d="M502.9 824.72V1067.35M495.1 1067.35H745" stroke="#000" stroke-width="1.8" fill="none"/>
<path d="M495.1 824.72H502.9" stroke="#000" stroke-width="1.6"/>
<path d="M495.1 905.75H502.9" stroke="#000" stroke-width="1.6"/>
<path d="M495.1 986.77H502.9" stroke="#000" stroke-width="1.6"/>
<text class="tk" x="492.6" y="832.32">1.5</text>
<text class="tk" x="492.6" y="913.35">1.0</text>
<text class="tk" x="492.6" y="994.37">0.5</text>
<text class="tk" x="492.6" y="1074.95">0.0</text>
<text class="xl" x="537.8" y="1088.75">SoftY</text>
<text class="xl" x="593.8" y="1088.75">StiffY</text>
<text class="xl" x="649.5" y="1088.75">SoftA</text>
<text class="xl" x="705.2" y="1088.75">StiffA</text>
<path d="M596.57 834.26H704.83" stroke="#000" stroke-width="1.9"/>
<text class="pv" x="650.03" y="827.57"><tspan font-style="italic">p</tspan>=0.0451</text>
<path d="M542.56 861.49H651.05" stroke="#000" stroke-width="1.9"/>
<text class="pv" x="596.69" y="855.48"><tspan font-style="italic">p</tspan>=0.0011</text>
<rect x="971.7" y="966.79" width="34.6" height="96.91" fill="#98e3d5" stroke="#000" stroke-width="2.0"/>
<rect x="1028.3" y="962.25" width="34.6" height="101.45" fill="#5fb89e" stroke="#000" stroke-width="2.0"/>
<rect x="1084.9" y="917.31" width="34.6" height="146.39" fill="#bca8da" stroke="#000" stroke-width="2.0"/>
<rect x="1141.3" y="913.23" width="34.6" height="150.47" fill="#9658b7" stroke="#000" stroke-width="2.0"/>
<path d="M989 966.79V947.27M979 947.27H999" stroke="#000" stroke-width="1.9" fill="none"/>
<path d="M1045.6 962.25V950.22M1035.6 950.22H1055.6" stroke="#000" stroke-width="1.9" fill="none"/>
<path d="M1102.2 917.31V906.64M1092.2 906.64H1112.2" stroke="#000" stroke-width="1.9" fill="none"/>
<path d="M1158.6 913.23V897.34M1148.6 897.34H1168.6" stroke="#000" stroke-width="1.9" fill="none"/>
<circle cx="988.47" cy="881.68" r="8.0"/>
<circle cx="988.47" cy="962.7" r="8.0"/>
<circle cx="978.49" cy="966.79" r="8.0"/>
<circle cx="999.37" cy="975.19" r="8.0"/>
<circle cx="988.47" cy="991.75" r="8.0"/>
<circle cx="988.47" cy="1013.77" r="8.0"/>
<circle cx="1056.11" cy="935.47" r="8.0"/>
<circle cx="1045.44" cy="942.28" r="8.0"/>
<circle cx="1035" cy="952.04" r="8.0"/>
<circle cx="1056.11" cy="959.3" r="8.0"/>
<circle cx="1045.44" cy="967.24" r="8.0"/>
<circle cx="1045.44" cy="1008.09" r="8.0"/>
<circle cx="1091.29" cy="892.35" r="8.0"/>
<circle cx="1101.5" cy="900.97" r="8.0"/>
<circle cx="1112.85" cy="900.29" r="8.0"/>
<circle cx="1112.17" cy="918.9" r="8.0"/>
<circle cx="1101.5" cy="929.79" r="8.0"/>
<circle cx="1101.5" cy="952.49" r="8.0"/>
<circle cx="1158.24" cy="854.22" r="8.0"/>
<circle cx="1153.7" cy="895.3" r="8.0"/>
<circle cx="1164.59" cy="896.88" r="8.0"/>
<circle cx="1158.24" cy="937.06" r="8.0"/>
<circle cx="1169.13" cy="938.19" r="8.0"/>
<circle cx="1147.35" cy="947.95" r="8.0"/>
<path d="M951.3 818.58V1063.7M942.3 1063.7H1197.5" stroke="#000" stroke-width="1.8" fill="none"/>
<path d="M942.3 818.58H951.3" stroke="#000" stroke-width="1.6"/>
<path d="M942.3 867.83H951.3" stroke="#000" stroke-width="1.6"/>
<path d="M942.3 916.86H951.3" stroke="#000" stroke-width="1.6"/>
<path d="M942.3 966.11H951.3" stroke="#000" stroke-width="1.6"/>
<path d="M942.3 1014.9H951.3" stroke="#000" stroke-width="1.6"/>
<text class="tk" x="939.3" y="826.58">2.5</text>
<text class="tk" x="939.3" y="875.83">2.0</text>
<text class="tk" x="939.3" y="924.86">1.5</text>
<text class="tk" x="939.3" y="974.11">1.0</text>
<text class="tk" x="939.3" y="1022.9">0.5</text>
<text class="tk" x="939.3" y="1071.7">0.0</text>
<text class="xl" x="989" y="1087">SoftY</text>
<text class="xl" x="1045.6" y="1087">StiffY</text>
<text class="xl" x="1102.2" y="1087">SoftA</text>
<text class="xl" x="1158.6" y="1087">StiffA</text>
<path d="M1044.76 815.18H1158.92" stroke="#000" stroke-width="1.9"/>
<text class="pv" x="1102.3" y="805.77"><tspan font-style="italic">p</tspan>=0.0373</text>
<path d="M988.47 847.63H1102.63" stroke="#000" stroke-width="1.9"/>
<text class="pv" x="1046.01" y="838.67"><tspan font-style="italic">p</tspan>=0.0160</text>
<text class="fc" transform="translate(900.6 945.7) rotate(-90)" x="0" y="0" textLength="122.8" lengthAdjust="spacingAndGlyphs">Fold change</text>
<rect x="1275.3" y="959.09" width="34.6" height="105.99" fill="#98e3d5" stroke="#000" stroke-width="2.0"/>
<rect x="1331.9" y="965.89" width="34.6" height="99.18" fill="#5fb89e" stroke="#000" stroke-width="2.0"/>
<rect x="1388.3" y="923.45" width="34.6" height="141.62" fill="#bca8da" stroke="#000" stroke-width="2.0"/>
<rect x="1444.9" y="902.8" width="34.6" height="162.28" fill="#9658b7" stroke="#000" stroke-width="2.0"/>
<path d="M1292.6 959.09V948.87M1282.6 948.87H1302.6" stroke="#000" stroke-width="1.9" fill="none"/>
<path d="M1349.2 965.89V955M1339.2 955H1359.2" stroke="#000" stroke-width="1.9" fill="none"/>
<path d="M1405.6 923.45V911.42M1395.6 911.42H1415.6" stroke="#000" stroke-width="1.9" fill="none"/>
<path d="M1462.2 902.8V897.35M1452.2 897.35H1472.2" stroke="#000" stroke-width="1.9" fill="none"/>
<circle cx="1281.62" cy="937.52" r="8.0"/>
<circle cx="1292.29" cy="938.66" r="8.0"/>
<circle cx="1303.18" cy="944.33" r="8.0"/>
<circle cx="1292.29" cy="959.09" r="8.0"/>
<circle cx="1287.3" cy="985.64" r="8.0"/>
<circle cx="1297.51" cy="984.5" r="8.0"/>
<circle cx="1349.03" cy="924.59" r="8.0"/>
<circle cx="1338.36" cy="955.23" r="8.0"/>
<circle cx="1359.24" cy="961.81" r="8.0"/>
<circle cx="1338.36" cy="972.25" r="8.0"/>
<circle cx="1359.24" cy="979.51" r="8.0"/>
<circle cx="1349.03" cy="996.99" r="8.0"/>
<circle cx="1405.77" cy="884.64" r="8.0"/>
<circle cx="1395.1" cy="902.35" r="8.0"/>
<circle cx="1415.98" cy="917.1" r="8.0"/>
<circle cx="1395.1" cy="931.17" r="8.0"/>
<circle cx="1415.98" cy="937.07" r="8.0"/>
<circle cx="1405.77" cy="961.35" r="8.0"/>
<circle cx="1465.91" cy="886.46" r="8.0"/>
<circle cx="1451.84" cy="895.54" r="8.0"/>
<circle cx="1472.72" cy="901.21" r="8.0"/>
<circle cx="1462.51" cy="901.21" r="8.0"/>
<circle cx="1451.84" cy="912.56" r="8.0"/>
<circle cx="1465.91" cy="910.29" r="8.0"/>
<path d="M1255.1 820.19V1065.08M1245.2 1065.08H1502" stroke="#000" stroke-width="1.8" fill="none"/>
<path d="M1245.2 820.19H1255.1" stroke="#000" stroke-width="1.6"/>
<path d="M1245.2 901.89H1255.1" stroke="#000" stroke-width="1.6"/>
<path d="M1245.2 983.6H1255.1" stroke="#000" stroke-width="1.6"/>
<text class="tk" x="1240.8" y="828.19">1.5</text>
<text class="tk" x="1240.8" y="909.89">1.0</text>
<text class="tk" x="1240.8" y="991.6">0.5</text>
<text class="tk" x="1240.8" y="1073.08">0.0</text>
<text class="xl" x="1288.6" y="1088.38">SoftY</text>
<text class="xl" x="1345.2" y="1088.38">StiffY</text>
<text class="xl" x="1401.6" y="1088.38">SoftA</text>
<text class="xl" x="1458.2" y="1088.38">StiffA</text>
<path d="M1348.57 832.44H1462.51" stroke="#000" stroke-width="1.9"/>
<text class="pv" x="1406.57" y="823.71"><tspan font-style="italic">p</tspan>=0.0009</text>
<rect x="203" y="1307.2" width="34.6" height="79.44" fill="#98e3d5" stroke="#000" stroke-width="2.0"/>
<rect x="258.7" y="1266.57" width="34.6" height="120.06" fill="#5fb89e" stroke="#000" stroke-width="2.0"/>
<rect x="314.5" y="1222.77" width="34.6" height="163.87" fill="#bca8da" stroke="#000" stroke-width="2.0"/>
<rect x="370.2" y="1220.5" width="34.6" height="166.13" fill="#9658b7" stroke="#000" stroke-width="2.0"/>
<path d="M220.3 1307.2V1296.53M210.3 1296.53H230.3" stroke="#000" stroke-width="1.9" fill="none"/>
<path d="M276 1266.57V1263.62M266 1263.62H286" stroke="#000" stroke-width="1.9" fill="none"/>
<path d="M331.8 1222.77V1198.94M321.8 1198.94H341.8" stroke="#000" stroke-width="1.9" fill="none"/>
<path d="M387.5 1220.5V1210.74M377.5 1210.74H397.5" stroke="#000" stroke-width="1.9" fill="none"/>
<circle cx="219.61" cy="1295.4" r="8.0"/>
<circle cx="219.61" cy="1315.37" r="8.0"/>
<circle cx="275.44" cy="1261.35" r="8.0"/>
<circle cx="265" cy="1269.3" r="8.0"/>
<circle cx="286.11" cy="1264.76" r="8.0"/>
<circle cx="331.05" cy="1177.83" r="8.0"/>
<circle cx="331.05" cy="1233.67" r="8.0"/>
<circle cx="331.05" cy="1252.73" r="8.0"/>
<circle cx="376.44" cy="1205.75" r="8.0"/>
<circle cx="397.32" cy="1214.83" r="8.0"/>
<circle cx="387.1" cy="1235.25" r="8.0"/>
<path d="M183.2 1143.79V1386.64M175.3 1386.64H425.6" stroke="#000" stroke-width="1.8" fill="none"/>
<path d="M175.3 1143.79H183.2" stroke="#000" stroke-width="1.6"/>
<path d="M175.3 1224.59H183.2" stroke="#000" stroke-width="1.6"/>
<path d="M175.3 1305.61H183.2" stroke="#000" stroke-width="1.6"/>
<text class="tk" x="173.2" y="1151.09">3.0</text>
<text class="tk" x="173.2" y="1231.89">2.0</text>
<text class="tk" x="173.2" y="1312.91">1.0</text>
<text class="tk" x="173.2" y="1393.94">0.0</text>
<text class="xl" x="218.8" y="1408.04">SoftY</text>
<text class="xl" x="274.5" y="1408.04">StiffY</text>
<text class="xl" x="330.3" y="1408.04">SoftA</text>
<text class="xl" x="386" y="1408.04">StiffA</text>
<path d="M274.76 1122.46H387.79" stroke="#000" stroke-width="1.9"/>
<text class="pv" x="332.3" y="1115.77"><tspan font-style="italic">p</tspan>=0.0419</text>
<path d="M219.61 1151.73H332.63" stroke="#000" stroke-width="1.9"/>
<text class="pv" x="276.01" y="1145.27"><tspan font-style="italic">p</tspan>=0.0050</text>
<text class="fc" transform="translate(131.7 1265.25) rotate(-90)" x="0" y="0" textLength="115.5" lengthAdjust="spacingAndGlyphs">Fold change</text>
<rect x="522.5" y="1305.87" width="34.6" height="80.8" fill="#98e3d5" stroke="#000" stroke-width="2.0"/>
<rect x="578.5" y="1289.3" width="34.6" height="97.37" fill="#5fb89e" stroke="#000" stroke-width="2.0"/>
<rect x="634.2" y="1218.26" width="34.6" height="168.4" fill="#bca8da" stroke="#000" stroke-width="2.0"/>
<rect x="689.9" y="1225.75" width="34.6" height="160.91" fill="#9658b7" stroke="#000" stroke-width="2.0"/>
<path d="M539.8 1305.87V1302.24M529.8 1302.24H549.8" stroke="#000" stroke-width="1.9" fill="none"/>
<path d="M595.8 1289.3V1283.62M585.8 1283.62H605.8" stroke="#000" stroke-width="1.9" fill="none"/>
<path d="M651.5 1218.26V1206.91M641.5 1206.91H661.5" stroke="#000" stroke-width="1.9" fill="none"/>
<path d="M707.2 1225.75V1222.8M697.2 1222.8H717.2" stroke="#000" stroke-width="1.9" fill="none"/>
<circle cx="528.94" cy="1309.27" r="8.0"/>
<circle cx="539.15" cy="1298.38" r="8.0"/>
<circle cx="550.05" cy="1306.32" r="8.0"/>
<circle cx="584.55" cy="1279.09" r="8.0"/>
<circle cx="605.65" cy="1288.16" r="8.0"/>
<circle cx="584.55" cy="1297.24" r="8.0"/>
<circle cx="650.82" cy="1199.65" r="8.0"/>
<circle cx="650.82" cy="1217.81" r="8.0"/>
<circle cx="650.82" cy="1235.96" r="8.0"/>
<circle cx="706.65" cy="1220.08" r="8.0"/>
<circle cx="696.44" cy="1228.47" r="8.0"/>
<circle cx="716.64" cy="1226.88" r="8.0"/>
<path d="M502.9 1143.59V1386.66M495.1 1386.66H745" stroke="#000" stroke-width="1.8" fill="none"/>
<path d="M495.1 1143.59H502.9" stroke="#000" stroke-width="1.6"/>
<path d="M495.1 1224.61H502.9" stroke="#000" stroke-width="1.6"/>
<path d="M495.1 1305.64H502.9" stroke="#000" stroke-width="1.6"/>
<text class="tk" x="492.6" y="1151.19">1.5</text>
<text class="tk" x="492.6" y="1232.21">1.0</text>
<text class="tk" x="492.6" y="1313.24">0.5</text>
<text class="tk" x="492.6" y="1394.26">0.0</text>
<text class="xl" x="537.8" y="1408.06">SoftY</text>
<text class="xl" x="593.8" y="1408.06">StiffY</text>
<text class="xl" x="649.5" y="1408.06">SoftA</text>
<text class="xl" x="705.2" y="1408.06">StiffA</text>
<path d="M594.76 1153.8H707.56" stroke="#000" stroke-width="1.9"/>
<text class="pv" x="648.89" y="1147.11"><tspan font-style="italic">p</tspan>&lt;0.001</text>
<path d="M539.15 1180.81H651.5" stroke="#000" stroke-width="1.9"/>
<text class="pv" x="598.28" y="1174.35"><tspan font-style="italic">p</tspan>&lt;0.001</text>
<rect x="971.7" y="1319.7" width="34.6" height="60.14" fill="#98e3d5" stroke="#000" stroke-width="2.0"/>
<rect x="1028.3" y="1316.75" width="34.6" height="63.09" fill="#5fb89e" stroke="#000" stroke-width="2.0"/>
<rect x="1084.9" y="1261.14" width="34.6" height="118.7" fill="#bca8da" stroke="#000" stroke-width="2.0"/>
<rect x="1141.3" y="1245.25" width="34.6" height="134.59" fill="#9658b7" stroke="#000" stroke-width="2.0"/>
<path d="M989 1319.7V1311.53M979 1311.53H999" stroke="#000" stroke-width="1.9" fill="none"/>
<path d="M1045.6 1316.75V1309.26M1035.6 1309.26H1055.6" stroke="#000" stroke-width="1.9" fill="none"/>
<path d="M1102.2 1261.14V1251.61M1092.2 1251.61H1112.2" stroke="#000" stroke-width="1.9" fill="none"/>
<path d="M1158.6 1245.25V1230.96M1148.6 1230.96H1168.6" stroke="#000" stroke-width="1.9" fill="none"/>
<circle cx="988.47" cy="1296.32" r="8.0"/>
<circle cx="978.49" cy="1306.53" r="8.0"/>
<circle cx="999.37" cy="1307.67" r="8.0"/>
<circle cx="988.47" cy="1319.7" r="8.0"/>
<circle cx="993.69" cy="1339.44" r="8.0"/>
<circle cx="983.48" cy="1343.3" r="8.0"/>
<circle cx="1048.84" cy="1298.14" r="8.0"/>
<circle cx="1035" cy="1309.94" r="8.0"/>
<circle cx="1056.11" cy="1309.94" r="8.0"/>
<circle cx="1045.44" cy="1313.34" r="8.0"/>
<circle cx="1045.44" cy="1319.7" r="8.0"/>
<circle cx="1045.44" cy="1343.3" r="8.0"/>
<circle cx="1112.39" cy="1232.77" r="8.0"/>
<circle cx="1091.29" cy="1246.39" r="8.0"/>
<circle cx="1112.39" cy="1252.06" r="8.0"/>
<circle cx="1091.29" cy="1262.28" r="8.0"/>
<circle cx="1112.39" cy="1274.08" r="8.0"/>
<circle cx="1101.5" cy="1292.92" r="8.0"/>
<circle cx="1158.24" cy="1194.19" r="8.0"/>
<circle cx="1158.24" cy="1219.15" r="8.0"/>
<circle cx="1158.24" cy="1236.18" r="8.0"/>
<circle cx="1158.24" cy="1267.95" r="8.0"/>
<circle cx="1169.13" cy="1267.95" r="8.0"/>
<circle cx="1147.35" cy="1279.75" r="8.0"/>
<path d="M951.3 1135.18V1379.84M942.3 1379.84H1197.5" stroke="#000" stroke-width="1.8" fill="none"/>
<path d="M942.3 1135.18H951.3" stroke="#000" stroke-width="1.6"/>
<path d="M942.3 1196.46H951.3" stroke="#000" stroke-width="1.6"/>
<path d="M942.3 1257.74H951.3" stroke="#000" stroke-width="1.6"/>
<path d="M942.3 1319.02H951.3" stroke="#000" stroke-width="1.6"/>
<text class="tk" x="939.3" y="1143.18">4.0</text>
<text class="tk" x="939.3" y="1204.46">3.0</text>
<text class="tk" x="939.3" y="1265.74">2.0</text>
<text class="tk" x="939.3" y="1327.02">1.0</text>
<text class="tk" x="939.3" y="1387.84">0.0</text>
<text class="xl" x="989" y="1402.54">SoftY</text>
<text class="xl" x="1045.6" y="1402.54">StiffY</text>
<text class="xl" x="1102.2" y="1402.54">SoftA</text>
<text class="xl" x="1158.6" y="1402.54">StiffA</text>
<path d="M1044.76 1142.44H1158.92" stroke="#000" stroke-width="1.9"/>
<text class="pv" x="1102.3" y="1132.57"><tspan font-style="italic">p</tspan>=0.0019</text>
<path d="M988.47 1175.58H1102.63" stroke="#000" stroke-width="1.9"/>
<text class="pv" x="1046.01" y="1166.62"><tspan font-style="italic">p</tspan>=0.0055</text>
<text class="fc" transform="translate(900.6 1261.8) rotate(-90)" x="0" y="0" textLength="123" lengthAdjust="spacingAndGlyphs">Fold change</text>
<rect x="1275.3" y="1327.64" width="34.6" height="56.74" fill="#98e3d5" stroke="#000" stroke-width="2.0"/>
<rect x="1331.9" y="1326.96" width="34.6" height="57.42" fill="#5fb89e" stroke="#000" stroke-width="2.0"/>
<rect x="1388.3" y="1324.69" width="34.6" height="59.69" fill="#bca8da" stroke="#000" stroke-width="2.0"/>
<rect x="1444.9" y="1262.96" width="34.6" height="121.42" fill="#9658b7" stroke="#000" stroke-width="2.0"/>
<path d="M1292.6 1327.64V1321.97M1282.6 1321.97H1302.6" stroke="#000" stroke-width="1.9" fill="none"/>
<path d="M1349.2 1326.96V1319.7M1339.2 1319.7H1359.2" stroke="#000" stroke-width="1.9" fill="none"/>
<path d="M1405.6 1324.69V1318.34M1395.6 1318.34H1415.6" stroke="#000" stroke-width="1.9" fill="none"/>
<path d="M1462.2 1262.96V1244.57M1452.2 1244.57H1472.2" stroke="#000" stroke-width="1.9" fill="none"/>
<circle cx="1288.88" cy="1312.89" r="8.0"/>
<circle cx="1296.37" cy="1316.75" r="8.0"/>
<circle cx="1282.08" cy="1321.29" r="8.0"/>
<circle cx="1303.64" cy="1328.09" r="8.0"/>
<circle cx="1282.08" cy="1340.58" r="8.0"/>
<circle cx="1295.69" cy="1339.44" r="8.0"/>
<circle cx="1359.7" cy="1302.68" r="8.0"/>
<circle cx="1338.36" cy="1317.88" r="8.0"/>
<circle cx="1359.7" cy="1321.29" r="8.0"/>
<circle cx="1349.03" cy="1331.95" r="8.0"/>
<circle cx="1359.7" cy="1337.17" r="8.0"/>
<circle cx="1338.36" cy="1343.98" r="8.0"/>
<circle cx="1398.96" cy="1309.94" r="8.0"/>
<circle cx="1409.17" cy="1309.94" r="8.0"/>
<circle cx="1395.56" cy="1323.1" r="8.0"/>
<circle cx="1415.98" cy="1323.1" r="8.0"/>
<circle cx="1409.17" cy="1330.36" r="8.0"/>
<circle cx="1402.36" cy="1344.66" r="8.0"/>
<circle cx="1462.06" cy="1203.95" r="8.0"/>
<circle cx="1462.06" cy="1224.83" r="8.0"/>
<circle cx="1472.72" cy="1259.55" r="8.0"/>
<circle cx="1451.84" cy="1269.09" r="8.0"/>
<circle cx="1472.72" cy="1304.26" r="8.0"/>
<circle cx="1451.84" cy="1310.62" r="8.0"/>
<path d="M1255.1 1139.72V1384.38M1245.2 1384.38H1502" stroke="#000" stroke-width="1.8" fill="none"/>
<path d="M1245.2 1139.72H1255.1" stroke="#000" stroke-width="1.6"/>
<path d="M1245.2 1201.45H1255.1" stroke="#000" stroke-width="1.6"/>
<path d="M1245.2 1262.5H1255.1" stroke="#000" stroke-width="1.6"/>
<path d="M1245.2 1323.56H1255.1" stroke="#000" stroke-width="1.6"/>
<text class="tk" x="1240.8" y="1147.72">2.0</text>
<text class="tk" x="1240.8" y="1209.45">1.5</text>
<text class="tk" x="1240.8" y="1270.5">1.0</text>
<text class="tk" x="1240.8" y="1331.56">0.5</text>
<text class="tk" x="1240.8" y="1392.38">0.0</text>
<text class="xl" x="1288.6" y="1407.08">SoftY</text>
<text class="xl" x="1345.2" y="1407.08">StiffY</text>
<text class="xl" x="1401.6" y="1407.08">SoftA</text>
<text class="xl" x="1458.2" y="1407.08">StiffA</text>
<path d="M1350.16 1147.66H1462.51" stroke="#000" stroke-width="1.9"/>
<text class="pv" x="1406.57" y="1138.25"><tspan font-style="italic">p</tspan>=0.0055</text>
<path d="M1405.31 1180.57H1462.51" stroke="#000" stroke-width="1.9"/>
<text class="pv" x="1433.8" y="1171.16"><tspan font-style="italic">p</tspan>=0.0101</text>
<rect x="203" y="1537.57" width="34.6" height="160.23" fill="#98e3d5" stroke="#000" stroke-width="2.0"/>
<rect x="258.7" y="1497.17" width="34.6" height="200.63" fill="#5fb89e" stroke="#000" stroke-width="2.0"/>
<rect x="314.5" y="1526.22" width="34.6" height="171.58" fill="#bca8da" stroke="#000" stroke-width="2.0"/>
<rect x="370.2" y="1496.71" width="34.6" height="201.09" fill="#9658b7" stroke="#000" stroke-width="2.0"/>
<path d="M220.3 1537.57V1526.22M210.3 1526.22H230.3" stroke="#000" stroke-width="1.9" fill="none"/>
<path d="M276 1497.17V1488.09M266 1488.09H286" stroke="#000" stroke-width="1.9" fill="none"/>
<path d="M331.8 1526.22V1519.41M321.8 1519.41H341.8" stroke="#000" stroke-width="1.9" fill="none"/>
<path d="M387.5 1496.71V1491.49M377.5 1491.49H397.5" stroke="#000" stroke-width="1.9" fill="none"/>
<circle cx="219.61" cy="1525.54" r="8.0"/>
<circle cx="219.61" cy="1545.51" r="8.0"/>
<circle cx="265" cy="1486.95" r="8.0"/>
<circle cx="286.11" cy="1488.77" r="8.0"/>
<circle cx="275.44" cy="1510.33" r="8.0"/>
<circle cx="320.83" cy="1518.73" r="8.0"/>
<circle cx="342.17" cy="1521" r="8.0"/>
<circle cx="320.83" cy="1535.75" r="8.0"/>
<circle cx="386.65" cy="1488.09" r="8.0"/>
<circle cx="397.32" cy="1495.58" r="8.0"/>
<circle cx="376.44" cy="1502.39" r="8.0"/>
<path d="M183.2 1455.18V1697.8M175.3 1697.8H425.6" stroke="#000" stroke-width="1.8" fill="none"/>
<path d="M175.3 1455.18H183.2" stroke="#000" stroke-width="1.6"/>
<path d="M175.3 1536.2H183.2" stroke="#000" stroke-width="1.6"/>
<path d="M175.3 1617H183.2" stroke="#000" stroke-width="1.6"/>
<text class="tk" x="173.2" y="1462.48">1.5</text>
<text class="tk" x="173.2" y="1543.5">1.0</text>
<text class="tk" x="173.2" y="1624.3">0.5</text>
<text class="tk" x="173.2" y="1705.1">0.0</text>
<text class="xl" x="218.8" y="1719.2">SoftY</text>
<text class="xl" x="274.5" y="1719.2">StiffY</text>
<text class="xl" x="330.3" y="1719.2">SoftA</text>
<text class="xl" x="386" y="1719.2">StiffA</text>
<path d="M219.61 1461.99H278.62" stroke="#000" stroke-width="1.9"/>
<text class="pv" x="247.19" y="1454.39"><tspan font-style="italic">p</tspan>=0.0047</text>
<path d="M331.5 1461.99H387.79" stroke="#000" stroke-width="1.9"/>
<text class="pv" x="359.53" y="1454.39"><tspan font-style="italic">p</tspan>=0.0125</text>
<text class="fc" transform="translate(131.7 1576.9) rotate(-90)" x="0" y="0" textLength="115.8" lengthAdjust="spacingAndGlyphs">Fold change</text>
<rect x="522.5" y="1560.72" width="34.6" height="137.08" fill="#98e3d5" stroke="#000" stroke-width="2.0"/>
<rect x="578.5" y="1553.45" width="34.6" height="144.35" fill="#5fb89e" stroke="#000" stroke-width="2.0"/>
<rect x="634.2" y="1544.37" width="34.6" height="153.43" fill="#bca8da" stroke="#000" stroke-width="2.0"/>
<rect x="689.9" y="1537.57" width="34.6" height="160.23" fill="#9658b7" stroke="#000" stroke-width="2.0"/>
<path d="M539.8 1560.72V1555.72M529.8 1555.72H549.8" stroke="#000" stroke-width="1.9" fill="none"/>
<path d="M595.8 1553.45V1548.23M585.8 1548.23H605.8" stroke="#000" stroke-width="1.9" fill="none"/>
<path d="M651.5 1544.37V1533.93M641.5 1533.93H661.5" stroke="#000" stroke-width="1.9" fill="none"/>
<path d="M707.2 1537.57V1534.16M697.2 1534.16H717.2" stroke="#000" stroke-width="1.9" fill="none"/>
<circle cx="539.15" cy="1551.18" r="8.0"/>
<circle cx="550.05" cy="1557.31" r="8.0"/>
<circle cx="528.94" cy="1567.07" r="8.0"/>
<circle cx="595.44" cy="1544.37" r="8.0"/>
<circle cx="606.11" cy="1549.37" r="8.0"/>
<circle cx="585" cy="1560.72" r="8.0"/>
<circle cx="651.05" cy="1523.95" r="8.0"/>
<circle cx="640.83" cy="1552.77" r="8.0"/>
<circle cx="662.17" cy="1553.45" r="8.0"/>
<circle cx="707.1" cy="1531.89" r="8.0"/>
<circle cx="718.45" cy="1534.61" r="8.0"/>
<circle cx="696.89" cy="1540.29" r="8.0"/>
<path d="M502.9 1455.18V1697.8M495.1 1697.8H745" stroke="#000" stroke-width="1.8" fill="none"/>
<path d="M495.1 1455.18H502.9" stroke="#000" stroke-width="1.6"/>
<path d="M495.1 1536.2H502.9" stroke="#000" stroke-width="1.6"/>
<path d="M495.1 1617H502.9" stroke="#000" stroke-width="1.6"/>
<text class="tk" x="492.6" y="1462.78">1.5</text>
<text class="tk" x="492.6" y="1543.8">1.0</text>
<text class="tk" x="492.6" y="1624.6">0.5</text>
<text class="tk" x="492.6" y="1705.4">0.0</text>
<text class="xl" x="537.8" y="1719.2">SoftY</text>
<text class="xl" x="593.8" y="1719.2">StiffY</text>
<text class="xl" x="649.5" y="1719.2">SoftA</text>
<text class="xl" x="705.2" y="1719.2">StiffA</text>
<rect x="971.7" y="1668.73" width="34.6" height="29.5" fill="#98e3d5" stroke="#000" stroke-width="2.0"/>
<rect x="1028.3" y="1641.5" width="34.6" height="56.74" fill="#5fb89e" stroke="#000" stroke-width="2.0"/>
<rect x="1084.9" y="1665.33" width="34.6" height="32.91" fill="#bca8da" stroke="#000" stroke-width="2.0"/>
<rect x="1141.3" y="1624.02" width="34.6" height="74.22" fill="#9658b7" stroke="#000" stroke-width="2.0"/>
<path d="M989 1668.73V1664.65M979 1664.65H999" stroke="#000" stroke-width="1.9" fill="none"/>
<path d="M1045.6 1641.5V1613.81M1035.6 1613.81H1055.6" stroke="#000" stroke-width="1.9" fill="none"/>
<path d="M1102.2 1665.33V1662.38M1092.2 1662.38H1112.2" stroke="#000" stroke-width="1.9" fill="none"/>
<path d="M1158.6 1624.02V1611.31M1148.6 1611.31H1168.6" stroke="#000" stroke-width="1.9" fill="none"/>
<circle cx="978.49" cy="1655.8" r="8.0"/>
<circle cx="988.47" cy="1661.93" r="8.0"/>
<circle cx="999.37" cy="1661.93" r="8.0"/>
<circle cx="988.47" cy="1669.87" r="8.0"/>
<circle cx="999.37" cy="1673.27" r="8.0"/>
<circle cx="978.49" cy="1681.67" r="8.0"/>
<circle cx="1045.44" cy="1521.89" r="8.0"/>
<circle cx="1045.44" cy="1612.68" r="8.0"/>
<circle cx="1045.44" cy="1657.39" r="8.0"/>
<circle cx="1035" cy="1675.54" r="8.0"/>
<circle cx="1056.11" cy="1675.54" r="8.0"/>
<circle cx="1045.44" cy="1693.7" r="8.0"/>
<circle cx="1095.37" cy="1654.66" r="8.0"/>
<circle cx="1103.77" cy="1658.07" r="8.0"/>
<circle cx="1112.85" cy="1663.74" r="8.0"/>
<circle cx="1098.09" cy="1666.46" r="8.0"/>
<circle cx="1091.29" cy="1668.73" r="8.0"/>
<circle cx="1108.31" cy="1670.32" r="8.0"/>
<circle cx="1158.24" cy="1566.6" r="8.0"/>
<circle cx="1148.03" cy="1624.48" r="8.0"/>
<circle cx="1169.13" cy="1632.42" r="8.0"/>
<circle cx="1152.57" cy="1626.75" r="8.0"/>
<circle cx="1148.03" cy="1643.77" r="8.0"/>
<circle cx="1162.32" cy="1642.63" r="8.0"/>
<path d="M951.3 1453.12V1698.24M942.3 1698.24H1197.5" stroke="#000" stroke-width="1.8" fill="none"/>
<path d="M942.3 1453.12H951.3" stroke="#000" stroke-width="1.6"/>
<path d="M942.3 1514.4H951.3" stroke="#000" stroke-width="1.6"/>
<path d="M942.3 1575.68H951.3" stroke="#000" stroke-width="1.6"/>
<path d="M942.3 1636.96H951.3" stroke="#000" stroke-width="1.6"/>
<text class="tk" x="939.3" y="1461.12">8.0</text>
<text class="tk" x="939.3" y="1522.4">6.0</text>
<text class="tk" x="939.3" y="1583.68">4.0</text>
<text class="tk" x="939.3" y="1644.96">2.0</text>
<text class="tk" x="939.3" y="1706.24">0.0</text>
<text class="xl" x="989" y="1719.64">SoftY</text>
<text class="xl" x="1045.6" y="1719.64">StiffY</text>
<text class="xl" x="1102.2" y="1719.64">SoftA</text>
<text class="xl" x="1158.6" y="1719.64">StiffA</text>
<path d="M1044.76 1454.94H1158.92" stroke="#000" stroke-width="1.9"/>
<text class="pv" x="1102.3" y="1447.11"><tspan font-style="italic">p</tspan>=0.0412</text>
<path d="M1101.5 1485.58H1158.92" stroke="#000" stroke-width="1.9"/>
<text class="pv" x="1130.67" y="1477.75"><tspan font-style="italic">p</tspan>=0.0247</text>
<text class="fc" transform="translate(900.6 1580.05) rotate(-90)" x="0" y="0" textLength="125.1" lengthAdjust="spacingAndGlyphs">Fold change</text>
<rect x="1275.3" y="1627.43" width="34.6" height="69.22" fill="#98e3d5" stroke="#000" stroke-width="2.0"/>
<rect x="1331.9" y="1619.94" width="34.6" height="76.71" fill="#5fb89e" stroke="#000" stroke-width="2.0"/>
<rect x="1388.3" y="1589.3" width="34.6" height="107.35" fill="#bca8da" stroke="#000" stroke-width="2.0"/>
<rect x="1444.9" y="1575" width="34.6" height="121.65" fill="#9658b7" stroke="#000" stroke-width="2.0"/>
<path d="M1292.6 1627.43V1607.91M1282.6 1607.91H1302.6" stroke="#000" stroke-width="1.9" fill="none"/>
<path d="M1349.2 1619.94V1607.91M1339.2 1607.91H1359.2" stroke="#000" stroke-width="1.9" fill="none"/>
<path d="M1405.6 1589.3V1567.28M1395.6 1567.28H1415.6" stroke="#000" stroke-width="1.9" fill="none"/>
<path d="M1462.2 1575V1552.98M1452.2 1552.98H1472.2" stroke="#000" stroke-width="1.9" fill="none"/>
<circle cx="1292.74" cy="1562.06" r="8.0"/>
<circle cx="1282.08" cy="1592.7" r="8.0"/>
<circle cx="1292.74" cy="1605.87" r="8.0"/>
<circle cx="1292.74" cy="1657.84" r="8.0"/>
<circle cx="1303.18" cy="1666.46" r="8.0"/>
<circle cx="1282.08" cy="1670.32" r="8.0"/>
<circle cx="1352.43" cy="1579.77" r="8.0"/>
<circle cx="1345.62" cy="1591.11" r="8.0"/>
<circle cx="1345.62" cy="1630.15" r="8.0"/>
<circle cx="1359.7" cy="1631.29" r="8.0"/>
<circle cx="1338.36" cy="1639.23" r="8.0"/>
<circle cx="1352.43" cy="1637.64" r="8.0"/>
<circle cx="1405.77" cy="1510.54" r="8.0"/>
<circle cx="1405.77" cy="1546.63" r="8.0"/>
<circle cx="1405.77" cy="1589.98" r="8.0"/>
<circle cx="1405.77" cy="1609.72" r="8.0"/>
<circle cx="1405.77" cy="1625.61" r="8.0"/>
<circle cx="1405.77" cy="1646.72" r="8.0"/>
<circle cx="1462.06" cy="1484.9" r="8.0"/>
<circle cx="1462.06" cy="1560.93" r="8.0"/>
<circle cx="1451.84" cy="1581.35" r="8.0"/>
<circle cx="1462.51" cy="1588.16" r="8.0"/>
<circle cx="1472.72" cy="1588.16" r="8.0"/>
<circle cx="1462.51" cy="1639.91" r="8.0"/>
<path d="M1255.1 1451.31V1696.65M1245.2 1696.65H1502" stroke="#000" stroke-width="1.8" fill="none"/>
<path d="M1245.2 1451.31H1255.1" stroke="#000" stroke-width="1.6"/>
<path d="M1245.2 1512.81H1255.1" stroke="#000" stroke-width="1.6"/>
<path d="M1245.2 1574.09H1255.1" stroke="#000" stroke-width="1.6"/>
<path d="M1245.2 1635.37H1255.1" stroke="#000" stroke-width="1.6"/>
<text class="tk" x="1240.8" y="1459.31">2.0</text>
<text class="tk" x="1240.8" y="1520.81">1.5</text>
<text class="tk" x="1240.8" y="1582.09">1.0</text>
<text class="tk" x="1240.8" y="1643.37">0.5</text>
<text class="tk" x="1240.8" y="1704.65">0.0</text>
<text class="xl" x="1296.1" y="1719.45">SoftY</text>
<text class="xl" x="1352.7" y="1719.45">StiffY</text>
<text class="xl" x="1409.1" y="1719.45">SoftA</text>
<text class="xl" x="1465.7" y="1719.45">StiffA</text>
<rect x="203" y="1891.36" width="34.6" height="120.29" fill="#98e3d5" stroke="#000" stroke-width="2.0"/>
<rect x="258.7" y="1852.55" width="34.6" height="159.1" fill="#5fb89e" stroke="#000" stroke-width="2.0"/>
<rect x="314.5" y="1863.45" width="34.6" height="148.2" fill="#bca8da" stroke="#000" stroke-width="2.0"/>
<rect x="370.2" y="1812.38" width="34.6" height="199.27" fill="#9658b7" stroke="#000" stroke-width="2.0"/>
<path d="M220.3 1891.36V1890.68M210.3 1890.68H230.3" stroke="#000" stroke-width="1.9" fill="none"/>
<path d="M276 1852.55V1844.15M266 1844.15H286" stroke="#000" stroke-width="1.9" fill="none"/>
<path d="M331.8 1863.45V1853.69M321.8 1853.69H341.8" stroke="#000" stroke-width="1.9" fill="none"/>
<path d="M387.5 1812.38V1808.29M377.5 1808.29H397.5" stroke="#000" stroke-width="1.9" fill="none"/>
<circle cx="209.39" cy="1890.68" r="8.0"/>
<circle cx="230.5" cy="1890.23" r="8.0"/>
<circle cx="265" cy="1840.75" r="8.0"/>
<circle cx="286.11" cy="1846.88" r="8.0"/>
<circle cx="275.44" cy="1865.72" r="8.0"/>
<circle cx="320.83" cy="1851.64" r="8.0"/>
<circle cx="342.17" cy="1855.96" r="8.0"/>
<circle cx="331.05" cy="1878.65" r="8.0"/>
<circle cx="387.1" cy="1803.3" r="8.0"/>
<circle cx="376.89" cy="1815.78" r="8.0"/>
<circle cx="397.32" cy="1813.51" r="8.0"/>
<path d="M183.2 1768.8V2011.65M175.3 2011.65H425.6" stroke="#000" stroke-width="1.8" fill="none"/>
<path d="M175.3 1768.8H183.2" stroke="#000" stroke-width="1.6"/>
<path d="M175.3 1829.86H183.2" stroke="#000" stroke-width="1.6"/>
<path d="M175.3 1890.68H183.2" stroke="#000" stroke-width="1.6"/>
<path d="M175.3 1951.28H183.2" stroke="#000" stroke-width="1.6"/>
<text class="tk" x="173.2" y="1776.1">2.0</text>
<text class="tk" x="173.2" y="1837.16">1.5</text>
<text class="tk" x="173.2" y="1897.98">1.0</text>
<text class="tk" x="173.2" y="1958.58">0.5</text>
<text class="tk" x="173.2" y="2018.95">0.0</text>
<text class="xl" x="218.8" y="2033.05">SoftY</text>
<text class="xl" x="274.5" y="2033.05">StiffY</text>
<text class="xl" x="330.3" y="2033.05">SoftA</text>
<text class="xl" x="386" y="2033.05">StiffA</text>
<path d="M275.44 1761.31H387.79" stroke="#000" stroke-width="1.9"/>
<text class="pv" x="334.57" y="1755.3"><tspan font-style="italic">p</tspan>=0.0030</text>
<path d="M331.05 1787.41H387.79" stroke="#000" stroke-width="1.9"/>
<text class="pv" x="358.4" y="1781.41"><tspan font-style="italic">p</tspan>=0.0008</text>
<path d="M219.61 1803.3H331.5" stroke="#000" stroke-width="1.9"/>
<text class="pv" x="277.83" y="1796.16"><tspan font-style="italic">p</tspan>=0.0269</text>
<path d="M219.61 1828.27H277.48" stroke="#000" stroke-width="1.9"/>
<text class="pv" x="250.59" y="1821.58"><tspan font-style="italic">p</tspan>=0.0059</text>
<text class="fc" transform="translate(131.7 1890.25) rotate(-90)" x="0" y="0" textLength="115.5" lengthAdjust="spacingAndGlyphs">Fold change</text>
<rect x="522.5" y="1892.95" width="34.6" height="118.47" fill="#98e3d5" stroke="#000" stroke-width="2.0"/>
<rect x="578.5" y="1889.55" width="34.6" height="121.88" fill="#5fb89e" stroke="#000" stroke-width="2.0"/>
<rect x="634.2" y="1873.2" width="34.6" height="138.22" fill="#bca8da" stroke="#000" stroke-width="2.0"/>
<rect x="689.9" y="1850.96" width="34.6" height="160.46" fill="#9658b7" stroke="#000" stroke-width="2.0"/>
<path d="M539.8 1892.95V1881.6M529.8 1881.6H549.8" stroke="#000" stroke-width="1.9" fill="none"/>
<path d="M595.8 1889.55V1881.6M585.8 1881.6H605.8" stroke="#000" stroke-width="1.9" fill="none"/>
<path d="M651.5 1873.2V1868.44M641.5 1868.44H661.5" stroke="#000" stroke-width="1.9" fill="none"/>
<path d="M707.2 1850.96V1846.88M697.2 1846.88H717.2" stroke="#000" stroke-width="1.9" fill="none"/>
<circle cx="539.61" cy="1872.52" r="8.0"/>
<circle cx="550.05" cy="1897.49" r="8.0"/>
<circle cx="528.94" cy="1905.89" r="8.0"/>
<circle cx="585" cy="1876.61" r="8.0"/>
<circle cx="606.11" cy="1891.36" r="8.0"/>
<circle cx="585" cy="1896.35" r="8.0"/>
<circle cx="651.5" cy="1864.58" r="8.0"/>
<circle cx="662.39" cy="1870.25" r="8.0"/>
<circle cx="640.83" cy="1879.33" r="8.0"/>
<circle cx="707.56" cy="1842.57" r="8.0"/>
<circle cx="718" cy="1852.1" r="8.0"/>
<circle cx="696.89" cy="1854.37" r="8.0"/>
<path d="M502.9 1768.58V2011.42M495.1 2011.42H745" stroke="#000" stroke-width="1.8" fill="none"/>
<path d="M495.1 1768.58H502.9" stroke="#000" stroke-width="1.6"/>
<path d="M495.1 1849.83H502.9" stroke="#000" stroke-width="1.6"/>
<path d="M495.1 1930.85H502.9" stroke="#000" stroke-width="1.6"/>
<text class="tk" x="492.6" y="1776.18">1.5</text>
<text class="tk" x="492.6" y="1857.43">1.0</text>
<text class="tk" x="492.6" y="1938.45">0.5</text>
<text class="tk" x="492.6" y="2019.02">0.0</text>
<text class="xl" x="537.8" y="2032.82">SoftY</text>
<text class="xl" x="593.8" y="2032.82">StiffY</text>
<text class="xl" x="649.5" y="2032.82">SoftA</text>
<text class="xl" x="705.2" y="2032.82">StiffA</text>
<path d="M594.76 1781.29H708.92" stroke="#000" stroke-width="1.9"/>
<text class="pv" x="655.7" y="1775.28"><tspan font-style="italic">p</tspan>=0.0029</text>
<path d="M650.82 1816.92H708.92" stroke="#000" stroke-width="1.9"/>
<text class="pv" x="681.8" y="1809.78"><tspan font-style="italic">p</tspan>=0.0402</text>
<rect x="971.7" y="1924.72" width="34.6" height="80.12" fill="#98e3d5" stroke="#000" stroke-width="2.0"/>
<rect x="1028.3" y="1934.94" width="34.6" height="69.9" fill="#5fb89e" stroke="#000" stroke-width="2.0"/>
<rect x="1084.9" y="1886.14" width="34.6" height="118.7" fill="#bca8da" stroke="#000" stroke-width="2.0"/>
<rect x="1141.3" y="1833.26" width="34.6" height="171.58" fill="#9658b7" stroke="#000" stroke-width="2.0"/>
<path d="M989 1924.72V1914.51M979 1914.51H999" stroke="#000" stroke-width="1.9" fill="none"/>
<path d="M1045.6 1934.94V1919.05M1035.6 1919.05H1055.6" stroke="#000" stroke-width="1.9" fill="none"/>
<path d="M1102.2 1886.14V1872.98M1092.2 1872.98H1112.2" stroke="#000" stroke-width="1.9" fill="none"/>
<path d="M1158.6 1833.26V1821.46M1148.6 1821.46H1168.6" stroke="#000" stroke-width="1.9" fill="none"/>
<circle cx="978.49" cy="1905.43" r="8.0"/>
<circle cx="999.37" cy="1902.48" r="8.0"/>
<circle cx="992.56" cy="1917.46" r="8.0"/>
<circle cx="985.75" cy="1917.92" r="8.0"/>
<circle cx="992.56" cy="1945.15" r="8.0"/>
<circle cx="985.3" cy="1949.69" r="8.0"/>
<circle cx="1056.11" cy="1886.14" r="8.0"/>
<circle cx="1045.44" cy="1897.94" r="8.0"/>
<circle cx="1045.44" cy="1922.46" r="8.0"/>
<circle cx="1045.44" cy="1956.95" r="8.0"/>
<circle cx="1056.11" cy="1961.04" r="8.0"/>
<circle cx="1035" cy="1973.52" r="8.0"/>
<circle cx="1112.85" cy="1852.78" r="8.0"/>
<circle cx="1091.29" cy="1864.58" r="8.0"/>
<circle cx="1112.85" cy="1872.52" r="8.0"/>
<circle cx="1091.29" cy="1881.15" r="8.0"/>
<circle cx="1101.5" cy="1899.31" r="8.0"/>
<circle cx="1101.5" cy="1937.21" r="8.0"/>
<circle cx="1158.24" cy="1791.5" r="8.0"/>
<circle cx="1158.24" cy="1818.05" r="8.0"/>
<circle cx="1147.35" cy="1828.27" r="8.0"/>
<circle cx="1169.13" cy="1828.95" r="8.0"/>
<circle cx="1163.91" cy="1856.18" r="8.0"/>
<circle cx="1153.02" cy="1865.72" r="8.0"/>
<path d="M951.3 1760.18V2004.84M942.3 2004.84H1197.5" stroke="#000" stroke-width="1.8" fill="none"/>
<path d="M942.3 1760.18H951.3" stroke="#000" stroke-width="1.6"/>
<path d="M942.3 1841.88H951.3" stroke="#000" stroke-width="1.6"/>
<path d="M942.3 1923.14H951.3" stroke="#000" stroke-width="1.6"/>
<text class="tk" x="939.3" y="1768.18">3.0</text>
<text class="tk" x="939.3" y="1849.88">2.0</text>
<text class="tk" x="939.3" y="1931.14">1.0</text>
<text class="tk" x="939.3" y="2012.84">0.0</text>
<text class="xl" x="989" y="2028.24">SoftY</text>
<text class="xl" x="1045.6" y="2028.24">StiffY</text>
<text class="xl" x="1102.2" y="2028.24">SoftA</text>
<text class="xl" x="1158.6" y="2028.24">StiffA</text>
<path d="M1044.76 1774.48H1158.92" stroke="#000" stroke-width="1.9"/>
<text class="pv" x="1102.3" y="1767.79"><tspan font-style="italic">p</tspan>=0.0004</text>
<text class="fc" transform="translate(900.6 1875.7) rotate(-90)" x="0" y="0" textLength="122.8" lengthAdjust="spacingAndGlyphs">Fold change</text>
<rect x="1275.3" y="1950.83" width="34.6" height="57.87" fill="#98e3d5" stroke="#000" stroke-width="2.0"/>
<rect x="1331.9" y="1914.51" width="34.6" height="94.19" fill="#5fb89e" stroke="#000" stroke-width="2.0"/>
<rect x="1388.3" y="1915.65" width="34.6" height="93.05" fill="#bca8da" stroke="#000" stroke-width="2.0"/>
<rect x="1444.9" y="1887.28" width="34.6" height="121.42" fill="#9658b7" stroke="#000" stroke-width="2.0"/>
<path d="M1292.6 1950.83V1943.34M1282.6 1943.34H1302.6" stroke="#000" stroke-width="1.9" fill="none"/>
<path d="M1349.2 1914.51V1900.21M1339.2 1900.21H1359.2" stroke="#000" stroke-width="1.9" fill="none"/>
<path d="M1405.6 1915.65V1906.11M1395.6 1906.11H1415.6" stroke="#000" stroke-width="1.9" fill="none"/>
<path d="M1462.2 1887.28V1867.98M1452.2 1867.98H1472.2" stroke="#000" stroke-width="1.9" fill="none"/>
<circle cx="1292.29" cy="1920.64" r="8.0"/>
<circle cx="1303.18" cy="1940.61" r="8.0"/>
<circle cx="1292.29" cy="1954.23" r="8.0"/>
<circle cx="1281.62" cy="1950.83" r="8.0"/>
<circle cx="1303.18" cy="1963.31" r="8.0"/>
<circle cx="1281.62" cy="1968.98" r="8.0"/>
<circle cx="1349.03" cy="1874.79" r="8.0"/>
<circle cx="1349.03" cy="1893.4" r="8.0"/>
<circle cx="1338.36" cy="1913.38" r="8.0"/>
<circle cx="1359.7" cy="1913.38" r="8.0"/>
<circle cx="1349.03" cy="1916.78" r="8.0"/>
<circle cx="1349.03" cy="1966.71" r="8.0"/>
<circle cx="1405.77" cy="1878.2" r="8.0"/>
<circle cx="1395.56" cy="1913.38" r="8.0"/>
<circle cx="1415.98" cy="1913.38" r="8.0"/>
<circle cx="1405.77" cy="1913.38" r="8.0"/>
<circle cx="1400.09" cy="1933.8" r="8.0"/>
<circle cx="1411.44" cy="1933.8" r="8.0"/>
<circle cx="1472.72" cy="1829.4" r="8.0"/>
<circle cx="1462.51" cy="1844.15" r="8.0"/>
<circle cx="1451.84" cy="1896.35" r="8.0"/>
<circle cx="1462.51" cy="1896.35" r="8.0"/>
<circle cx="1472.72" cy="1896.35" r="8.0"/>
<circle cx="1462.51" cy="1954.68" r="8.0"/>
<path d="M1255.1 1764.04V2008.7M1245.2 2008.7H1502" stroke="#000" stroke-width="1.8" fill="none"/>
<path d="M1245.2 1764.04H1255.1" stroke="#000" stroke-width="1.6"/>
<path d="M1245.2 1824.86H1255.1" stroke="#000" stroke-width="1.6"/>
<path d="M1245.2 1886.6H1255.1" stroke="#000" stroke-width="1.6"/>
<path d="M1245.2 1947.42H1255.1" stroke="#000" stroke-width="1.6"/>
<text class="tk" x="1240.8" y="1772.04">1.5</text>
<text class="tk" x="1240.8" y="2016.7">0.0</text>
<text class="tk" x="1240.8" y="1855.56">1.0</text>
<text class="tk" x="1240.8" y="1936.13">0.5</text>
<text class="xl" x="1296.1" y="2031.5">SoftY</text>
<text class="xl" x="1352.7" y="2031.5">StiffY</text>
<text class="xl" x="1409.1" y="2031.5">SoftA</text>
<text class="xl" x="1465.7" y="2031.5">StiffA</text>
<path d="M1292.29 1779.02H1406.22" stroke="#000" stroke-width="1.9"/>
<text class="pv" x="1349.83" y="1771.19"><tspan font-style="italic">p</tspan>=0.0373</text>
<rect x="203" y="2215.21" width="34.6" height="120.29" fill="#98e3d5" stroke="#000" stroke-width="2.0"/>
<rect x="258.7" y="2164.15" width="34.6" height="171.35" fill="#5fb89e" stroke="#000" stroke-width="2.0"/>
<rect x="314.5" y="2168.91" width="34.6" height="166.59" fill="#bca8da" stroke="#000" stroke-width="2.0"/>
<rect x="370.2" y="2125.79" width="34.6" height="209.71" fill="#9658b7" stroke="#000" stroke-width="2.0"/>
<path d="M220.3 2215.21V2209.77M210.3 2209.77H230.3" stroke="#000" stroke-width="1.9" fill="none"/>
<path d="M276 2164.15V2159.15M266 2159.15H286" stroke="#000" stroke-width="1.9" fill="none"/>
<path d="M331.8 2168.91V2153.48M321.8 2153.48H341.8" stroke="#000" stroke-width="1.9" fill="none"/>
<path d="M387.5 2125.79V2110.81M377.5 2110.81H397.5" stroke="#000" stroke-width="1.9" fill="none"/>
<circle cx="230.5" cy="2209.09" r="8.0"/>
<circle cx="209.39" cy="2219.75" r="8.0"/>
<circle cx="275.44" cy="2154.61" r="8.0"/>
<circle cx="265" cy="2169.37" r="8.0"/>
<circle cx="286.11" cy="2164.37" r="8.0"/>
<circle cx="321.29" cy="2153.03" r="8.0"/>
<circle cx="342.17" cy="2153.48" r="8.0"/>
<circle cx="331.5" cy="2195.47" r="8.0"/>
<circle cx="387.56" cy="2101.73" r="8.0"/>
<circle cx="387.56" cy="2119.89" r="8.0"/>
<circle cx="387.56" cy="2149.39" r="8.0"/>
<path d="M183.2 2092.65V2335.5M175.3 2335.5H425.6" stroke="#000" stroke-width="1.8" fill="none"/>
<path d="M175.3 2092.65H183.2" stroke="#000" stroke-width="1.6"/>
<path d="M175.3 2153.48H183.2" stroke="#000" stroke-width="1.6"/>
<path d="M175.3 2214.31H183.2" stroke="#000" stroke-width="1.6"/>
<path d="M175.3 2274.9H183.2" stroke="#000" stroke-width="1.6"/>
<text class="tk" x="173.2" y="2099.95">2.0</text>
<text class="tk" x="173.2" y="2160.78">1.5</text>
<text class="tk" x="173.2" y="2221.61">1.0</text>
<text class="tk" x="173.2" y="2282.2">0.5</text>
<text class="tk" x="173.2" y="2342.8">0.0</text>
<text class="xl" x="218.8" y="2356.9">SoftY</text>
<text class="xl" x="274.5" y="2356.9">StiffY</text>
<text class="xl" x="330.3" y="2356.9">SoftA</text>
<text class="xl" x="386" y="2356.9">StiffA</text>
<path d="M275.44 2062.02H387.79" stroke="#000" stroke-width="1.9"/>
<text class="pv" x="331.16" y="2055.55"><tspan font-style="italic">p</tspan>=0.0403</text>
<path d="M219.61 2088.8H278.16" stroke="#000" stroke-width="1.9"/>
<text class="pv" x="251.73" y="2081.65"><tspan font-style="italic">p</tspan>=0.0192</text>
<path d="M331.5 2088.8H387.79" stroke="#000" stroke-width="1.9"/>
<text class="pv" x="357.26" y="2081.65"><tspan font-style="italic">p</tspan>=0.0255</text>
<path d="M219.61 2116.49H331.5" stroke="#000" stroke-width="1.9"/>
<text class="pv" x="277.37" y="2108.89"><tspan font-style="italic">p</tspan>=0.0287</text>
<text class="fc" transform="translate(131.7 2214.4) rotate(-90)" x="0" y="0" textLength="116.1" lengthAdjust="spacingAndGlyphs">Fold change</text>
<rect x="522.5" y="2204.09" width="34.6" height="131.41" fill="#98e3d5" stroke="#000" stroke-width="2.0"/>
<rect x="578.5" y="2203.41" width="34.6" height="132.09" fill="#5fb89e" stroke="#000" stroke-width="2.0"/>
<rect x="634.2" y="2180.26" width="34.6" height="155.24" fill="#bca8da" stroke="#000" stroke-width="2.0"/>
<rect x="689.9" y="2175.5" width="34.6" height="160.01" fill="#9658b7" stroke="#000" stroke-width="2.0"/>
<path d="M539.8 2204.09V2195.01M529.8 2195.01H549.8" stroke="#000" stroke-width="1.9" fill="none"/>
<path d="M595.8 2203.41V2196.15M585.8 2196.15H605.8" stroke="#000" stroke-width="1.9" fill="none"/>
<path d="M651.5 2180.26V2172.09M641.5 2172.09H661.5" stroke="#000" stroke-width="1.9" fill="none"/>
<path d="M707.2 2175.5V2165.51M697.2 2165.51H717.2" stroke="#000" stroke-width="1.9" fill="none"/>
<circle cx="528.94" cy="2192.74" r="8.0"/>
<circle cx="550.05" cy="2196.15" r="8.0"/>
<circle cx="539.61" cy="2219.3" r="8.0"/>
<circle cx="585" cy="2192.06" r="8.0"/>
<circle cx="606.11" cy="2200.69" r="8.0"/>
<circle cx="585" cy="2214.08" r="8.0"/>
<circle cx="651.5" cy="2164.83" r="8.0"/>
<circle cx="662.17" cy="2182.98" r="8.0"/>
<circle cx="640.83" cy="2189.79" r="8.0"/>
<circle cx="707.56" cy="2158.47" r="8.0"/>
<circle cx="718" cy="2175.04" r="8.0"/>
<circle cx="696.89" cy="2187.52" r="8.0"/>
<path d="M502.9 2092.65V2335.5M495.1 2335.5H745" stroke="#000" stroke-width="1.8" fill="none"/>
<path d="M495.1 2092.65H502.9" stroke="#000" stroke-width="1.6"/>
<path d="M495.1 2173.45H502.9" stroke="#000" stroke-width="1.6"/>
<path d="M495.1 2254.48H502.9" stroke="#000" stroke-width="1.6"/>
<text class="tk" x="492.6" y="2100.25">1.5</text>
<text class="tk" x="492.6" y="2181.05">1.0</text>
<text class="tk" x="492.6" y="2262.08">0.5</text>
<text class="tk" x="492.6" y="2343.1">0.0</text>
<text class="xl" x="537.8" y="2356.9">SoftY</text>
<text class="xl" x="593.8" y="2356.9">StiffY</text>
<text class="xl" x="649.5" y="2356.9">SoftA</text>
<text class="xl" x="705.2" y="2356.9">StiffA</text>
<path d="M594.31 2119.89H707.56" stroke="#000" stroke-width="1.9"/>
<text class="pv" x="651.16" y="2112.97"><tspan font-style="italic">p</tspan>=0.0272</text>
<rect x="971.7" y="2262.42" width="34.6" height="80.12" fill="#98e3d5" stroke="#000" stroke-width="2.0"/>
<rect x="1028.3" y="2257.2" width="34.6" height="85.34" fill="#5fb89e" stroke="#000" stroke-width="2.0"/>
<rect x="1084.9" y="2262.87" width="34.6" height="79.66" fill="#bca8da" stroke="#000" stroke-width="2.0"/>
<rect x="1141.3" y="2182.53" width="34.6" height="160.01" fill="#9658b7" stroke="#000" stroke-width="2.0"/>
<path d="M989 2262.42V2251.07M979 2251.07H999" stroke="#000" stroke-width="1.9" fill="none"/>
<path d="M1045.6 2257.2V2235.64M1035.6 2235.64H1055.6" stroke="#000" stroke-width="1.9" fill="none"/>
<path d="M1102.2 2262.87V2249.94M1092.2 2249.94H1112.2" stroke="#000" stroke-width="1.9" fill="none"/>
<path d="M1158.6 2182.53V2164.15M1148.6 2164.15H1168.6" stroke="#000" stroke-width="1.9" fill="none"/>
<circle cx="988.47" cy="2227.7" r="8.0"/>
<circle cx="978.49" cy="2252.66" r="8.0"/>
<circle cx="988.47" cy="2246.99" r="8.0"/>
<circle cx="999.37" cy="2253.34" r="8.0"/>
<circle cx="994.37" cy="2284.44" r="8.0"/>
<circle cx="983.48" cy="2297.6" r="8.0"/>
<circle cx="1045.44" cy="2172.32" r="8.0"/>
<circle cx="1045.44" cy="2227.92" r="8.0"/>
<circle cx="1045.44" cy="2250.62" r="8.0"/>
<circle cx="1045.44" cy="2289.66" r="8.0"/>
<circle cx="1056.11" cy="2290.79" r="8.0"/>
<circle cx="1034.55" cy="2301" r="8.0"/>
<circle cx="1101.5" cy="2224.29" r="8.0"/>
<circle cx="1091.29" cy="2252.21" r="8.0"/>
<circle cx="1112.39" cy="2254.48" r="8.0"/>
<circle cx="1098.09" cy="2259.02" r="8.0"/>
<circle cx="1106.04" cy="2268.78" r="8.0"/>
<circle cx="1101.5" cy="2310.08" r="8.0"/>
<circle cx="1158.24" cy="2125.56" r="8.0"/>
<circle cx="1158.24" cy="2143.95" r="8.0"/>
<circle cx="1158.24" cy="2171.18" r="8.0"/>
<circle cx="1147.35" cy="2202.28" r="8.0"/>
<circle cx="1169.13" cy="2212.49" r="8.0"/>
<circle cx="1158.24" cy="2230.65" r="8.0"/>
<path d="M951.3 2097.87V2342.54M942.3 2342.54H1197.5" stroke="#000" stroke-width="1.8" fill="none"/>
<path d="M942.3 2097.87H951.3" stroke="#000" stroke-width="1.6"/>
<path d="M942.3 2179.58H951.3" stroke="#000" stroke-width="1.6"/>
<path d="M942.3 2260.83H951.3" stroke="#000" stroke-width="1.6"/>
<text class="tk" x="939.3" y="2105.87">3.0</text>
<text class="tk" x="939.3" y="2187.58">2.0</text>
<text class="tk" x="939.3" y="2268.83">1.0</text>
<text class="tk" x="939.3" y="2350.54">0.0</text>
<text class="xl" x="989" y="2365.74">SoftY</text>
<text class="xl" x="1045.6" y="2365.74">StiffY</text>
<text class="xl" x="1102.2" y="2365.74">SoftA</text>
<text class="xl" x="1158.6" y="2365.74">StiffA</text>
<path d="M1044.76 2076.77H1158.92" stroke="#000" stroke-width="1.9"/>
<text class="pv" x="1102.3" y="2070.3"><tspan font-style="italic">p</tspan>=0.0114</text>
<path d="M1101.5 2107.63H1158.92" stroke="#000" stroke-width="1.9"/>
<text class="pv" x="1130.67" y="2100.94"><tspan font-style="italic">p</tspan>=0.0055</text>
<text class="fc" transform="translate(900.6 2216.8) rotate(-90)" x="0" y="0" textLength="123.1" lengthAdjust="spacingAndGlyphs">Fold change</text>
<rect x="1275.3" y="2255.61" width="34.6" height="78.98" fill="#98e3d5" stroke="#000" stroke-width="2.0"/>
<rect x="1331.9" y="2214.31" width="34.6" height="120.29" fill="#5fb89e" stroke="#000" stroke-width="2.0"/>
<rect x="1388.3" y="2232.46" width="34.6" height="102.13" fill="#bca8da" stroke="#000" stroke-width="2.0"/>
<rect x="1444.9" y="2171.64" width="34.6" height="162.96" fill="#9658b7" stroke="#000" stroke-width="2.0"/>
<path d="M1292.6 2255.61V2246.53M1282.6 2246.53H1302.6" stroke="#000" stroke-width="1.9" fill="none"/>
<path d="M1349.2 2214.31V2198.19M1339.2 2198.19H1359.2" stroke="#000" stroke-width="1.9" fill="none"/>
<path d="M1405.6 2232.46V2221.57M1395.6 2221.57H1415.6" stroke="#000" stroke-width="1.9" fill="none"/>
<path d="M1462.2 2171.64V2152.35M1452.2 2152.35H1472.2" stroke="#000" stroke-width="1.9" fill="none"/>
<circle cx="1281.62" cy="2227.24" r="8.0"/>
<circle cx="1292.29" cy="2235.64" r="8.0"/>
<circle cx="1281.62" cy="2254.48" r="8.0"/>
<circle cx="1292.29" cy="2257.88" r="8.0"/>
<circle cx="1303.18" cy="2269.91" r="8.0"/>
<circle cx="1281.62" cy="2280.58" r="8.0"/>
<circle cx="1338.36" cy="2173.45" r="8.0"/>
<circle cx="1359.7" cy="2185.25" r="8.0"/>
<circle cx="1338.36" cy="2209.09" r="8.0"/>
<circle cx="1359.7" cy="2207.5" r="8.0"/>
<circle cx="1359.7" cy="2225.65" r="8.0"/>
<circle cx="1349.03" cy="2273.77" r="8.0"/>
<circle cx="1405.77" cy="2187.07" r="8.0"/>
<circle cx="1395.56" cy="2230.65" r="8.0"/>
<circle cx="1415.98" cy="2230.65" r="8.0"/>
<circle cx="1405.77" cy="2236.32" r="8.0"/>
<circle cx="1415.98" cy="2248.8" r="8.0"/>
<circle cx="1395.56" cy="2252.21" r="8.0"/>
<circle cx="1468.18" cy="2127.38" r="8.0"/>
<circle cx="1456.83" cy="2133.05" r="8.0"/>
<circle cx="1451.84" cy="2165.96" r="8.0"/>
<circle cx="1472.72" cy="2168.23" r="8.0"/>
<circle cx="1462.51" cy="2171.64" r="8.0"/>
<circle cx="1462.51" cy="2255.61" r="8.0"/>
<path d="M1255.1 2088.8V2334.59M1255.1 2334.59H1502" stroke="#000" stroke-width="1.8" fill="none"/>
<text class="tk" x="1240.8" y="2342.59">0.0</text>
<text class="tk" x="1240.8" y="2099.07">1.5</text>
<text class="tk" x="1240.8" y="2180.77">1.0</text>
<text class="tk" x="1240.8" y="2262.48">0.5</text>
<text class="xl" x="1296.1" y="2358.09">SoftY</text>
<text class="xl" x="1352.7" y="2358.09">StiffY</text>
<text class="xl" x="1409.1" y="2358.09">SoftA</text>
<text class="xl" x="1465.7" y="2358.09">StiffA</text>
<path d="M1405.31 2101.28H1462.51" stroke="#000" stroke-width="1.9"/>
<text class="pv" x="1433.8" y="2092.55"><tspan font-style="italic">p</tspan>=0.0338</text>
<rect x="203" y="2579.31" width="34.6" height="59.46" fill="#98e3d5" stroke="#000" stroke-width="2.0"/>
<rect x="258.7" y="2545.94" width="34.6" height="92.83" fill="#5fb89e" stroke="#000" stroke-width="2.0"/>
<rect x="314.5" y="2472.64" width="34.6" height="166.13" fill="#bca8da" stroke="#000" stroke-width="2.0"/>
<rect x="370.2" y="2470.37" width="34.6" height="168.4" fill="#9658b7" stroke="#000" stroke-width="2.0"/>
<path d="M220.3 2579.31V2572.05M210.3 2572.05H230.3" stroke="#000" stroke-width="1.9" fill="none"/>
<path d="M276 2545.94V2542.99M266 2542.99H286" stroke="#000" stroke-width="1.9" fill="none"/>
<path d="M331.8 2472.64V2460.15M321.8 2460.15H341.8" stroke="#000" stroke-width="1.9" fill="none"/>
<path d="M387.5 2470.37V2456.3M377.5 2456.3H397.5" stroke="#000" stroke-width="1.9" fill="none"/>
<circle cx="230.05" cy="2572.05" r="8.0"/>
<circle cx="209.39" cy="2584.98" r="8.0"/>
<circle cx="275.44" cy="2540.72" r="8.0"/>
<circle cx="265" cy="2547.99" r="8.0"/>
<circle cx="286.11" cy="2544.13" r="8.0"/>
<circle cx="331.05" cy="2452.89" r="8.0"/>
<circle cx="331.05" cy="2469.91" r="8.0"/>
<circle cx="331.05" cy="2492.61" r="8.0"/>
<circle cx="387.56" cy="2444.95" r="8.0"/>
<circle cx="398" cy="2473.77" r="8.0"/>
<circle cx="376.89" cy="2488.52" r="8.0"/>
<path d="M183.2 2395.92V2638.77M175.3 2638.77H425.6" stroke="#000" stroke-width="1.8" fill="none"/>
<path d="M175.3 2395.92H183.2" stroke="#000" stroke-width="1.6"/>
<path d="M175.3 2456.75H183.2" stroke="#000" stroke-width="1.6"/>
<path d="M175.3 2517.57H183.2" stroke="#000" stroke-width="1.6"/>
<path d="M175.3 2578.17H183.2" stroke="#000" stroke-width="1.6"/>
<text class="tk" x="173.2" y="2403.22">4</text>
<text class="tk" x="173.2" y="2464.05">3</text>
<text class="tk" x="173.2" y="2524.87">2</text>
<text class="tk" x="173.2" y="2585.47">1</text>
<text class="tk" x="173.2" y="2646.07">0</text>
<text class="xl" x="218.8" y="2660.17">SoftY</text>
<text class="xl" x="274.5" y="2660.17">StiffY</text>
<text class="xl" x="330.3" y="2660.17">SoftA</text>
<text class="xl" x="386" y="2660.17">StiffA</text>
<path d="M277.48 2404.09H383.02" stroke="#000" stroke-width="1.9"/>
<text class="pv" x="331.16" y="2396.27"><tspan font-style="italic">p</tspan>=0.0008</text>
<path d="M225.28 2436.78H330.36" stroke="#000" stroke-width="1.9"/>
<text class="pv" x="277.83" y="2429.18"><tspan font-style="italic">p</tspan>=0.0002</text>
<text class="fc" transform="translate(131.7 2517.6) rotate(-90)" x="0" y="0" textLength="116.1" lengthAdjust="spacingAndGlyphs">Fold change</text>
<rect x="522.5" y="2572.5" width="34.6" height="65.82" fill="#98e3d5" stroke="#000" stroke-width="2.0"/>
<rect x="578.5" y="2563.42" width="34.6" height="74.9" fill="#5fb89e" stroke="#000" stroke-width="2.0"/>
<rect x="634.2" y="2472.64" width="34.6" height="165.68" fill="#bca8da" stroke="#000" stroke-width="2.0"/>
<rect x="689.9" y="2477.86" width="34.6" height="160.46" fill="#9658b7" stroke="#000" stroke-width="2.0"/>
<path d="M539.8 2572.5V2570.23M529.8 2570.23H549.8" stroke="#000" stroke-width="1.9" fill="none"/>
<path d="M595.8 2563.42V2558.2M585.8 2558.2H605.8" stroke="#000" stroke-width="1.9" fill="none"/>
<path d="M651.5 2472.64V2464.69M641.5 2464.69H661.5" stroke="#000" stroke-width="1.9" fill="none"/>
<path d="M707.2 2477.86V2473.77M697.2 2473.77H717.2" stroke="#000" stroke-width="1.9" fill="none"/>
<circle cx="528.94" cy="2574.77" r="8.0"/>
<circle cx="539.15" cy="2567.96" r="8.0"/>
<circle cx="550.05" cy="2571.36" r="8.0"/>
<circle cx="595.44" cy="2553.21" r="8.0"/>
<circle cx="585" cy="2567.96" r="8.0"/>
<circle cx="605.65" cy="2565.69" r="8.0"/>
<circle cx="651.05" cy="2456.75" r="8.0"/>
<circle cx="640.83" cy="2481.26" r="8.0"/>
<circle cx="661.71" cy="2477.18" r="8.0"/>
<circle cx="707.1" cy="2471.5" r="8.0"/>
<circle cx="717.32" cy="2476.04" r="8.0"/>
<circle cx="696.44" cy="2482.85" r="8.0"/>
<path d="M502.9 2395.92V2638.32M495.1 2638.32H745" stroke="#000" stroke-width="1.8" fill="none"/>
<path d="M495.1 2395.92H502.9" stroke="#000" stroke-width="1.6"/>
<path d="M495.1 2477.18H502.9" stroke="#000" stroke-width="1.6"/>
<path d="M495.1 2557.75H502.9" stroke="#000" stroke-width="1.6"/>
<text class="tk" x="492.6" y="2403.52">1.5</text>
<text class="tk" x="492.6" y="2484.78">1.0</text>
<text class="tk" x="492.6" y="2565.35">0.5</text>
<text class="tk" x="492.6" y="2645.92">0.0</text>
<text class="xl" x="537.8" y="2659.72">SoftY</text>
<text class="xl" x="593.8" y="2659.72">StiffY</text>
<text class="xl" x="649.5" y="2659.72">SoftA</text>
<text class="xl" x="705.2" y="2659.72">StiffA</text>
<path d="M594.08 2403.87H690.08" stroke="#000" stroke-width="1.9"/>
<text class="pv" x="642.09" y="2396.27"><tspan font-style="italic">p</tspan>&lt;0.0001</text>
<path d="M545.96 2437H642.42" stroke="#000" stroke-width="1.9"/>
<text class="pv" x="594.42" y="2429.18"><tspan font-style="italic">p</tspan>&lt;0.0001</text>
<rect x="1275.3" y="2601.55" width="34.6" height="35.18" fill="#98e3d5" stroke="#000" stroke-width="2.0"/>
<rect x="1331.9" y="2558.2" width="34.6" height="78.53" fill="#5fb89e" stroke="#000" stroke-width="2.0"/>
<rect x="1388.3" y="2511.22" width="34.6" height="125.51" fill="#bca8da" stroke="#000" stroke-width="2.0"/>
<rect x="1444.9" y="2515.31" width="34.6" height="121.42" fill="#9658b7" stroke="#000" stroke-width="2.0"/>
<path d="M1292.6 2601.55V2591.79M1282.6 2591.79H1302.6" stroke="#000" stroke-width="1.9" fill="none"/>
<path d="M1349.2 2558.2V2535.73M1339.2 2535.73H1359.2" stroke="#000" stroke-width="1.9" fill="none"/>
<path d="M1405.6 2511.22V2500.55M1395.6 2500.55H1415.6" stroke="#000" stroke-width="1.9" fill="none"/>
<path d="M1462.2 2515.31V2492.61M1452.2 2492.61H1472.2" stroke="#000" stroke-width="1.9" fill="none"/>
<circle cx="1295.69" cy="2572.5" r="8.0"/>
<circle cx="1288.43" cy="2574.77" r="8.0"/>
<circle cx="1288.43" cy="2606.54" r="8.0"/>
<circle cx="1296.37" cy="2616.76" r="8.0"/>
<circle cx="1303.18" cy="2611.08" r="8.0"/>
<circle cx="1281.62" cy="2620.84" r="8.0"/>
<circle cx="1349.03" cy="2475.59" r="8.0"/>
<circle cx="1349.03" cy="2510.09" r="8.0"/>
<circle cx="1345.62" cy="2582.26" r="8.0"/>
<circle cx="1359.7" cy="2582.71" r="8.0"/>
<circle cx="1352.43" cy="2589.52" r="8.0"/>
<circle cx="1338.36" cy="2596.33" r="8.0"/>
<circle cx="1415.98" cy="2484.44" r="8.0"/>
<circle cx="1395.56" cy="2500.55" r="8.0"/>
<circle cx="1405.77" cy="2499.87" r="8.0"/>
<circle cx="1415.98" cy="2503.28" r="8.0"/>
<circle cx="1405.77" cy="2516.89" r="8.0"/>
<circle cx="1405.77" cy="2553.21" r="8.0"/>
<circle cx="1462.51" cy="2432.92" r="8.0"/>
<circle cx="1451.84" cy="2492.61" r="8.0"/>
<circle cx="1472.72" cy="2506.68" r="8.0"/>
<circle cx="1451.84" cy="2529.38" r="8.0"/>
<circle cx="1472.72" cy="2532.78" r="8.0"/>
<circle cx="1462.51" cy="2589.52" r="8.0"/>
<path d="M1255.1 2392.07V2636.73M1245.2 2636.73H1502" stroke="#000" stroke-width="1.8" fill="none"/>
<path d="M1245.2 2392.07H1255.1" stroke="#000" stroke-width="1.6"/>
<path d="M1245.2 2453.35H1255.1" stroke="#000" stroke-width="1.6"/>
<path d="M1245.2 2514.62H1255.1" stroke="#000" stroke-width="1.6"/>
<path d="M1245.2 2575.9H1255.1" stroke="#000" stroke-width="1.6"/>
<text class="tk" x="1240.8" y="2400.07">2.0</text>
<text class="tk" x="1240.8" y="2461.35">1.5</text>
<text class="tk" x="1240.8" y="2522.62">1.0</text>
<text class="tk" x="1240.8" y="2583.9">0.5</text>
<text class="tk" x="1240.8" y="2644.73">0.0</text>
<text class="xl" x="1296.1" y="2659.53">SoftY</text>
<text class="xl" x="1352.7" y="2659.53">StiffY</text>
<text class="xl" x="1409.1" y="2659.53">SoftA</text>
<text class="xl" x="1465.7" y="2659.53">StiffA</text>
<path d="M1292.29 2432.24H1406.22" stroke="#000" stroke-width="1.9"/>
<text class="pv" x="1349.83" y="2422.37"><tspan font-style="italic">p</tspan>=0.0022</text>
<rect x="970.5" y="2582.26" width="34.6" height="54.92" fill="#98e3d5" stroke="#000" stroke-width="2.0"/>
<rect x="1026" y="2524.84" width="36.6" height="112.35" fill="#5fb89e"/>
<path d="M1027 2524.84V2637.18H1061.6V2524.84" stroke="#000" stroke-width="2.0" fill="none"/>
<rect x="1082.3" y="2524.84" width="36.6" height="112.35" fill="#bca8da"/>
<path d="M1083.3 2524.84V2637.18H1117.9V2524.84" stroke="#000" stroke-width="2.0" fill="none"/>
<rect x="1138.6" y="2524.84" width="36.6" height="112.35" fill="#9658b7"/>
<path d="M1139.6 2524.84V2637.18H1174.2V2524.84" stroke="#000" stroke-width="2.0" fill="none"/>
<rect x="1026" y="2486.98" width="36.6" height="14.05" fill="#5fb89e"/>
<path d="M1027 2501.03V2487.98H1061.6V2501.03" stroke="#000" stroke-width="2.0" fill="none"/>
<path d="M1044.3 2487.98V2476.35M1034.3 2476.35H1054.3" stroke="#000" stroke-width="1.9" fill="none"/>
<rect x="1082.3" y="2477.68" width="36.6" height="23.35" fill="#bca8da"/>
<path d="M1083.3 2501.03V2478.68H1117.9V2501.03" stroke="#000" stroke-width="2.0" fill="none"/>
<path d="M1100.6 2478.68V2474.21M1090.6 2474.21H1110.6" stroke="#000" stroke-width="1.9" fill="none"/>
<rect x="1138.6" y="2473.75" width="36.6" height="27.29" fill="#9658b7"/>
<path d="M1139.6 2501.03V2474.75H1174.2V2501.03" stroke="#000" stroke-width="2.0" fill="none"/>
<path d="M1156.9 2474.75V2468.84M1146.9 2468.84H1166.9" stroke="#000" stroke-width="1.9" fill="none"/>
<path d="M987.8 2582.26V2573.18M977.8 2573.18H997.8" stroke="#000" stroke-width="1.9" fill="none"/>
<circle cx="978.49" cy="2565.24" r="8.0"/>
<circle cx="988.47" cy="2565.69" r="8.0"/>
<circle cx="998.23" cy="2566.37" r="8.0"/>
<circle cx="981.89" cy="2584.98" r="8.0"/>
<circle cx="993.01" cy="2590.66" r="8.0"/>
<circle cx="987.57" cy="2614.49" r="8.0"/>
<circle cx="1043.91" cy="2433.98" r="8.0"/>
<circle cx="1037.29" cy="2487.62" r="8.0"/>
<circle cx="1032.82" cy="2499.24" r="8.0"/>
<circle cx="1044.44" cy="2499.24" r="8.0"/>
<circle cx="1053.38" cy="2498.35" r="8.0"/>
<circle cx="1055.17" cy="2502.82" r="8.0"/>
<circle cx="1090.04" cy="2473.31" r="8.0"/>
<circle cx="1096.3" cy="2470.63" r="8.0"/>
<circle cx="1104.35" cy="2473.31" r="8.0"/>
<circle cx="1111.5" cy="2471.53" r="8.0"/>
<circle cx="1100.77" cy="2476" r="8.0"/>
<circle cx="1096.3" cy="2492.98" r="8.0"/>
<circle cx="1160.67" cy="2457.22" r="8.0"/>
<circle cx="1146.37" cy="2464.37" r="8.0"/>
<circle cx="1162.46" cy="2477.79" r="8.0"/>
<circle cx="1153.52" cy="2478.68" r="8.0"/>
<circle cx="1143.69" cy="2487.62" r="8.0"/>
<circle cx="1167.83" cy="2478.68" r="8.0"/>
<path d="M949.89 2417.03V2497.99" stroke="#000" stroke-width="1.8" fill="none"/>
<path d="M949.89 2525.17V2637.18H1197.5" stroke="#000" stroke-width="1.8" fill="none"/>
<path d="M942.39 2637.18H949.89" stroke="#000" stroke-width="1.8"/>
<path d="M945.2 2496.56L955.03 2507.29" stroke="#000" stroke-width="1.8"/>
<path d="M945.2 2520.17L955.03 2530.18" stroke="#000" stroke-width="1.8"/>
<path d="M942.39 2417.03H949.89" stroke="#000" stroke-width="1.8"/>
<text class="tk" x="938.39" y="2424.73">400</text>
<path d="M942.39 2459.47H949.89" stroke="#000" stroke-width="1.8"/>
<text class="tk" x="938.39" y="2467.17">200</text>
<path d="M942.39 2580.9H949.89" stroke="#000" stroke-width="1.8"/>
<text class="tk" x="938.39" y="2588.6">1</text>
<text class="tk" x="938.39" y="2644.88">0</text>
<text class="tk" x="938.39" y="2532.54">2</text>
<text class="xl" x="987.8" y="2659.78">SoftY</text>
<text class="xl" x="1044.3" y="2659.78">StiffY</text>
<text class="xl" x="1100.6" y="2659.78">SoftA</text>
<text class="xl" x="1156.9" y="2659.78">StiffA</text>
<path d="M987.34 2393.65H1101.95" stroke="#000" stroke-width="1.9"/>
<text class="pv" x="1044.31" y="2385.26"><tspan font-style="italic">p</tspan>=0.0008</text>
<path d="M987.34 2420.44H1044.76" stroke="#000" stroke-width="1.9"/>
<text class="pv" x="1015.71" y="2412.49"><tspan font-style="italic">p</tspan>=0.0455</text>
<text class="fc" transform="translate(900.6 2518.5) rotate(-90)" x="0" y="0" textLength="122.4" lengthAdjust="spacingAndGlyphs">Fold change</text>
<text class="lt" x="123.8" y="165.1">a</text>
<text class="lt" x="892.6" y="165.2">b</text>
<text class="lt" x="123.8" y="515.7">c</text>
<text class="lt" x="892.5" y="517.2">d</text>
<text class="lt" x="124.3" y="825.9">e</text>
<text class="lt" x="892.4" y="825">f</text>
<text class="lt" x="123.8" y="1142.7">g</text>
<text class="lt" x="892.5" y="1142.2">h</text>
<text class="lt" x="124.2" y="1472.9">i</text>
<text class="lt" x="892" y="1472.7">j</text>
<text class="lt" x="124.3" y="1766.6">k</text>
<text class="lt" x="892.5" y="1767.2">l</text>
<text class="lt" x="123.8" y="2103.1">m</text>
<text class="lt" x="892.5" y="2103.1">n</text>
<text class="lt" x="124.2" y="2398.4">o</text>
<text class="lt" x="892.8" y="2398.7">p</text>
<text class="rl" x="45.3" y="272">Acta2</text>
<text class="rl" x="45.3" y="650.3">Fn1</text>
<text class="rl" x="45.3" y="962.5">Col1a1</text>
<text class="rl" x="45.3" y="1274.7">Lox</text>
<text class="rl" x="45.3" y="1587">Flna</text>
<text class="rl" x="45.3" y="1899.3">Tln2</text>
<text class="rl" x="45.3" y="2211.9">Cdkn1a</text>
<text class="rl" x="45.3" y="2524.1">Timp3</text>
</svg></body></html>
